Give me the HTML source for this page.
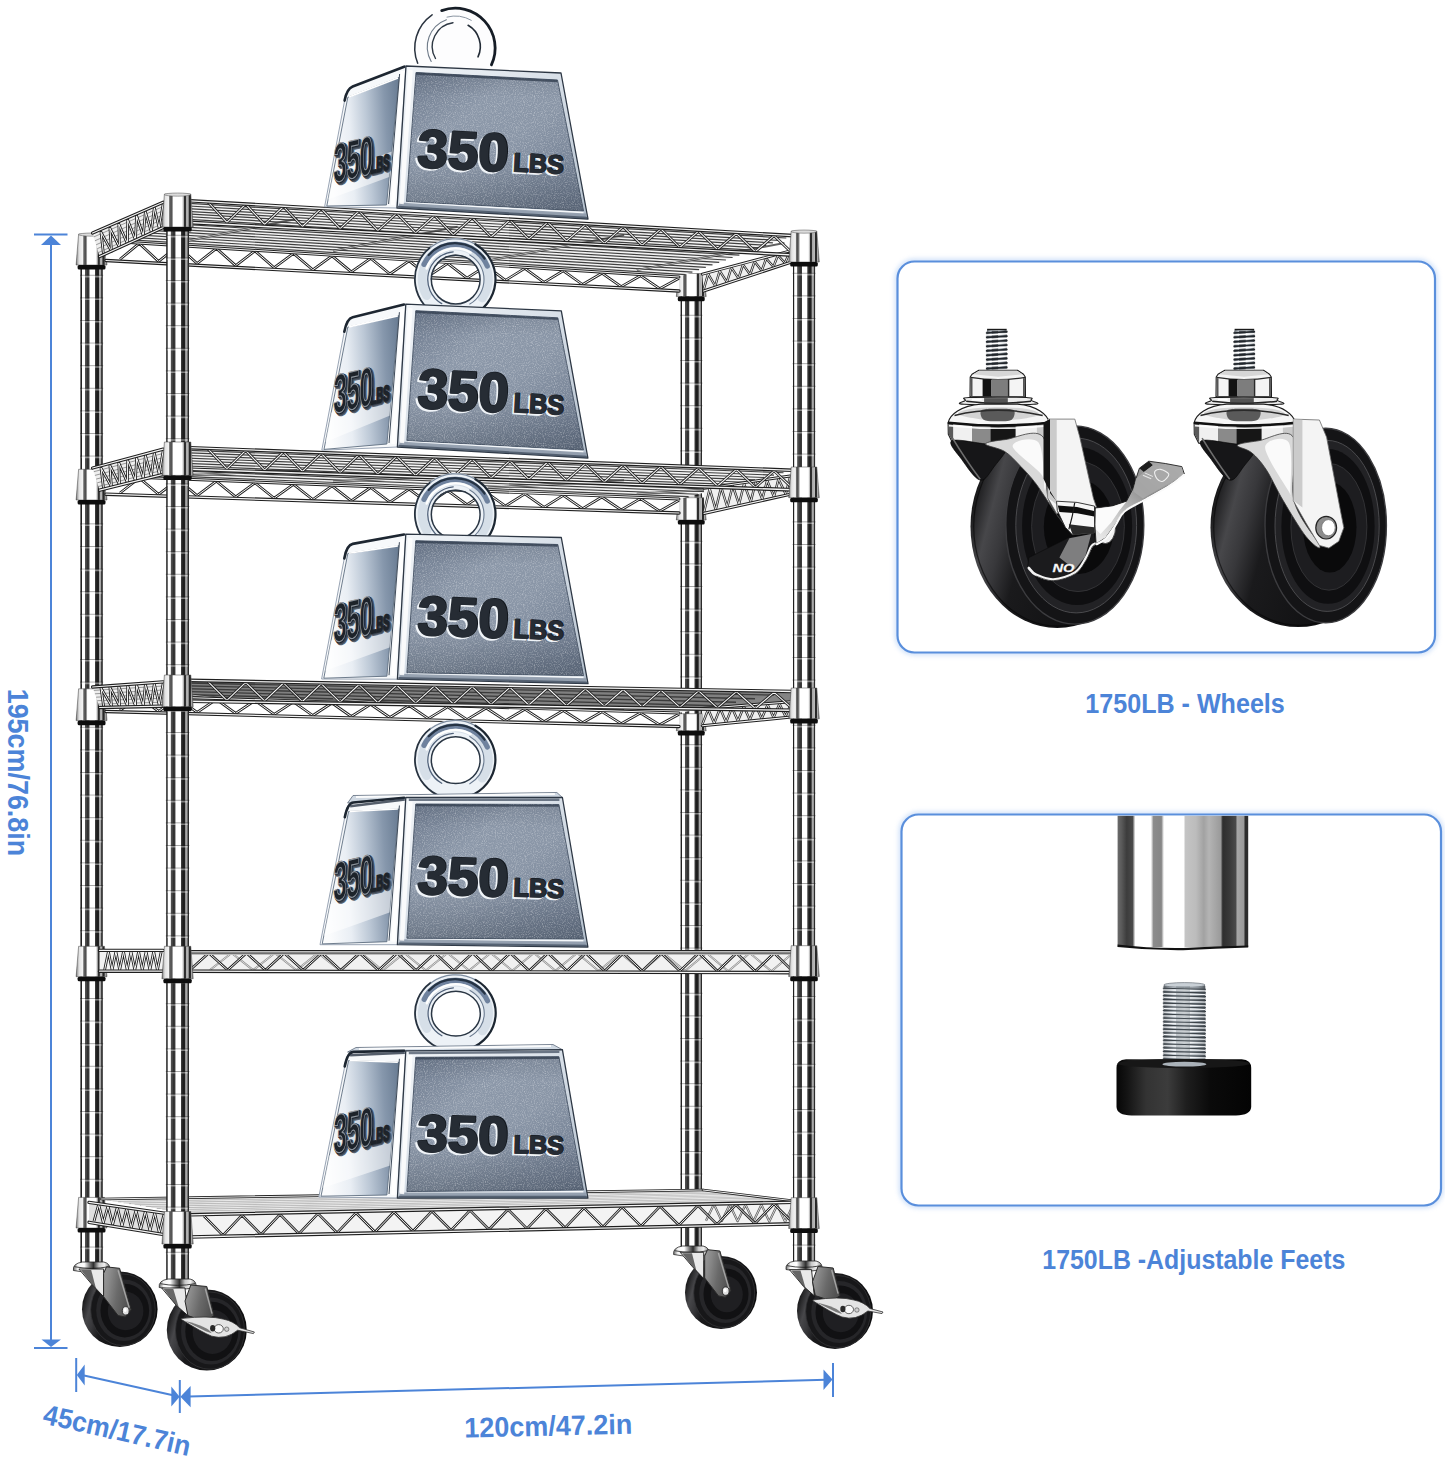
<!DOCTYPE html>
<html><head><meta charset="utf-8"><title>5-tier wire shelving - 350 LBS per shelf</title>
<style>
html,body{margin:0;padding:0;background:#fff;}
body{width:1445px;height:1458px;overflow:hidden;font-family:"Liberation Sans",sans-serif;}
svg{display:block;}
text{font-family:"Liberation Sans",sans-serif;}
</style></head><body>
<svg width="1445" height="1458" viewBox="0 0 1445 1458">

<defs>
  <linearGradient id="chrome" x1="0" x2="1" y1="0" y2="0">
    <stop offset="0" stop-color="#202020"/><stop offset="0.05" stop-color="#222222"/>
    <stop offset="0.072" stop-color="#ffffff"/><stop offset="0.185" stop-color="#ffffff"/>
    <stop offset="0.207" stop-color="#545454"/><stop offset="0.29" stop-color="#404040"/>
    <stop offset="0.31" stop-color="#303030"/><stop offset="0.385" stop-color="#3a3a3a"/>
    <stop offset="0.425" stop-color="#ffffff"/><stop offset="0.635" stop-color="#ffffff"/>
    <stop offset="0.665" stop-color="#3c3c3c"/><stop offset="0.71" stop-color="#2a2a2a"/>
    <stop offset="0.73" stop-color="#1c1c1c"/><stop offset="0.83" stop-color="#222222"/>
    <stop offset="0.85" stop-color="#a8a8a8"/><stop offset="0.925" stop-color="#a8a8a8"/>
    <stop offset="0.945" stop-color="#2b2b2b"/><stop offset="1" stop-color="#2b2b2b"/>
  </linearGradient>
  <linearGradient id="collar" x1="0" x2="1" y1="0" y2="0">
    <stop offset="0" stop-color="#4a4a4a"/><stop offset="0.04" stop-color="#a4a4a4"/>
    <stop offset="0.10" stop-color="#e2e2e2"/><stop offset="0.22" stop-color="#f4f4f4"/>
    <stop offset="0.245" stop-color="#707070"/><stop offset="0.30" stop-color="#484848"/>
    <stop offset="0.335" stop-color="#909090"/><stop offset="0.37" stop-color="#ffffff"/>
    <stop offset="0.64" stop-color="#ffffff"/><stop offset="0.69" stop-color="#b4b4b4"/>
    <stop offset="0.705" stop-color="#2e2e2e"/><stop offset="0.755" stop-color="#303030"/>
    <stop offset="0.77" stop-color="#a8a8a8"/><stop offset="0.845" stop-color="#b8b8b8"/>
    <stop offset="0.86" stop-color="#262626"/><stop offset="0.915" stop-color="#2a2a2a"/>
    <stop offset="0.93" stop-color="#b8b8b8"/><stop offset="1" stop-color="#6a6a6a"/>
  </linearGradient>
  <linearGradient id="panelg" x1="0" x2="1" y1="0" y2="1">
    <stop offset="0" stop-color="#6a778b"/><stop offset="0.32" stop-color="#8c98a9"/>
    <stop offset="0.55" stop-color="#8a96a7"/><stop offset="1" stop-color="#687589"/>
  </linearGradient>
  <linearGradient id="frameg" x1="0" x2="1" y1="0" y2="1">
    <stop offset="0" stop-color="#f4f7fa"/><stop offset="0.5" stop-color="#d5dde6"/>
    <stop offset="1" stop-color="#b4c0cd"/>
  </linearGradient>
  <linearGradient id="sideg" x1="0" x2="1" y1="0" y2="0">
    <stop offset="0" stop-color="#eef3f8"/><stop offset="0.45" stop-color="#ffffff"/>
    <stop offset="0.8" stop-color="#cfd9e4"/><stop offset="1" stop-color="#9fb0c4"/>
  </linearGradient>
  <linearGradient id="sideinner" x1="0" x2="1" y1="0.12" y2="0">
    <stop offset="0" stop-color="#fbfcfd"/><stop offset="0.28" stop-color="#e9eef4"/>
    <stop offset="0.52" stop-color="#bcc8d6"/><stop offset="0.78" stop-color="#8697ac"/>
    <stop offset="1" stop-color="#687b92"/>
  </linearGradient>
  <linearGradient id="ringg" x1="0" x2="1" y1="0" y2="1">
    <stop offset="0" stop-color="#5d6f86"/><stop offset="0.3" stop-color="#a9b8c9"/>
    <stop offset="0.55" stop-color="#e6edf4"/><stop offset="1" stop-color="#c4d0dc"/>
  </linearGradient>
  <linearGradient id="tube" x1="0" x2="1" y1="0" y2="0">
    <stop offset="0" stop-color="#6a6a6a"/><stop offset="0.03" stop-color="#5a5a5a"/>
    <stop offset="0.07" stop-color="#3c3c3c"/><stop offset="0.115" stop-color="#4a4a4a"/>
    <stop offset="0.135" stop-color="#ffffff"/><stop offset="0.255" stop-color="#ffffff"/>
    <stop offset="0.275" stop-color="#8c8c8c"/><stop offset="0.335" stop-color="#868686"/>
    <stop offset="0.355" stop-color="#ffffff"/><stop offset="0.505" stop-color="#ffffff"/>
    <stop offset="0.52" stop-color="#c4c4c4"/><stop offset="0.60" stop-color="#bcbcbc"/>
    <stop offset="0.66" stop-color="#a2a2a2"/><stop offset="0.70" stop-color="#b4b4b4"/>
    <stop offset="0.79" stop-color="#9a9a9a"/><stop offset="0.805" stop-color="#2e2e2e"/>
    <stop offset="0.86" stop-color="#3a3a3a"/><stop offset="0.905" stop-color="#4a4a4a"/>
    <stop offset="0.915" stop-color="#a6a6a6"/><stop offset="0.965" stop-color="#9a9a9a"/>
    <stop offset="0.978" stop-color="#2c2c2c"/><stop offset="1" stop-color="#2c2c2c"/>
  </linearGradient>
  <linearGradient id="screw" x1="0" x2="1" y1="0" y2="0">
    <stop offset="0" stop-color="#5a6066"/><stop offset="0.25" stop-color="#c8cfd6"/>
    <stop offset="0.5" stop-color="#eef2f5"/><stop offset="0.8" stop-color="#9aa2aa"/>
    <stop offset="1" stop-color="#50565c"/>
  </linearGradient>
  <linearGradient id="footg" x1="0" x2="1" y1="0" y2="0">
    <stop offset="0" stop-color="#060606"/><stop offset="0.08" stop-color="#141414"/>
    <stop offset="0.22" stop-color="#333333"/><stop offset="0.38" stop-color="#3c3c3c"/>
    <stop offset="0.52" stop-color="#1e1e1e"/><stop offset="0.7" stop-color="#0a0a0a"/>
    <stop offset="1" stop-color="#040404"/>
  </linearGradient>
  <radialGradient id="tire" cx="0.45" cy="0.45" r="0.6">
    <stop offset="0" stop-color="#2a2a2c"/><stop offset="0.55" stop-color="#1b1b1d"/>
    <stop offset="0.8" stop-color="#111113"/><stop offset="1" stop-color="#060607"/>
  </radialGradient>
  <linearGradient id="forkg" x1="0" x2="1" y1="0" y2="0">
    <stop offset="0" stop-color="#e8e8e8"/><stop offset="0.4" stop-color="#bdbdbd"/>
    <stop offset="1" stop-color="#8d8d8d"/>
  </linearGradient>
  <linearGradient id="domeg" x1="0" x2="1" y1="0" y2="0">
    <stop offset="0" stop-color="#6a6a6a"/><stop offset="0.12" stop-color="#f4f4f4"/>
    <stop offset="0.3" stop-color="#ffffff"/><stop offset="0.45" stop-color="#777"/>
    <stop offset="0.55" stop-color="#2e2e2e"/><stop offset="0.7" stop-color="#c9c9c9"/>
    <stop offset="0.85" stop-color="#f0f0f0"/><stop offset="1" stop-color="#777"/>
  </linearGradient>
  <linearGradient id="forkdk" x1="0" x2="1" y1="0" y2="0.3">
    <stop offset="0" stop-color="#9a9a9a"/><stop offset="0.25" stop-color="#8a8a8a"/>
    <stop offset="0.6" stop-color="#6a6a6a"/><stop offset="1" stop-color="#525252"/>
  </linearGradient>
  <linearGradient id="panelshade" x1="0" x2="0" y1="0" y2="1">
    <stop offset="0" stop-color="#3c4656" stop-opacity="0.22"/><stop offset="0.18" stop-color="#3c4656" stop-opacity="0"/>
    <stop offset="0.62" stop-color="#3c4656" stop-opacity="0"/><stop offset="1" stop-color="#38424f" stop-opacity="0.38"/>
  </linearGradient>
  <linearGradient id="leverg" x1="0" x2="1" y1="1" y2="0">
    <stop offset="0" stop-color="#efefef"/><stop offset="0.3" stop-color="#c9c9c9"/>
    <stop offset="0.6" stop-color="#8e8e8e"/><stop offset="1" stop-color="#b5b5b5"/>
  </linearGradient>
  <linearGradient id="tread" x1="0" x2="1" y1="0.35" y2="0.65">
    <stop offset="0" stop-color="#0c0c0c"/><stop offset="0.05" stop-color="#252527"/>
    <stop offset="0.13" stop-color="#47474a"/><stop offset="0.22" stop-color="#38383b"/>
    <stop offset="0.34" stop-color="#1a1a1c"/><stop offset="1" stop-color="#0b0b0c"/>
  </linearGradient>
  <filter id="grain" x="0" y="0" width="100%" height="100%">
    <feTurbulence type="fractalNoise" baseFrequency="0.9" numOctaves="2" seed="3" result="n"/>
    <feColorMatrix in="n" type="matrix" values="0 0 0 0 1  0 0 0 0 1  0 0 0 0 1  1.6 0 0 0 -0.72" result="s"/>
    <feComposite in="s" in2="SourceGraphic" operator="in"/>
  </filter>
  <filter id="soft"><feGaussianBlur stdDeviation="1.2"/></filter>
  <filter id="glow"><feGaussianBlur stdDeviation="2.5"/></filter>
</defs>

<rect width="1445" height="1458" fill="#ffffff"/>
<g id="rack-back">
<rect x="680.6" y="280" width="21.4" height="967" fill="url(#chrome)"/>
<path d="M680.2,292.7h22.2M680.2,315.3h22.2M680.2,337.9h22.2M680.2,360.5h22.2M680.2,383.1h22.2M680.2,405.7h22.2M680.2,428.3h22.2M680.2,450.9h22.2M680.2,473.5h22.2M680.2,496.1h22.2M680.2,518.7h22.2M680.2,541.3h22.2M680.2,563.9h22.2M680.2,586.5h22.2M680.2,609.1h22.2M680.2,631.7h22.2M680.2,654.3h22.2M680.2,676.9h22.2M680.2,699.5h22.2M680.2,722.1h22.2M680.2,744.7h22.2M680.2,767.3h22.2M680.2,789.9h22.2M680.2,812.5h22.2M680.2,835.1h22.2M680.2,857.7h22.2M680.2,880.3h22.2M680.2,902.9h22.2M680.2,925.5h22.2M680.2,948.1h22.2M680.2,970.7h22.2M680.2,993.3h22.2M680.2,1015.9h22.2M680.2,1038.5h22.2M680.2,1061.1h22.2M680.2,1083.7h22.2M680.2,1106.3h22.2M680.2,1128.9h22.2M680.2,1151.5h22.2M680.2,1174.1h22.2M680.2,1196.7h22.2M680.2,1219.3h22.2" stroke="#1a1a1a" stroke-width="0.7" opacity="0.55"/>
<path d="M681.8,294.0h19.0M681.8,316.6h19.0M681.8,339.2h19.0M681.8,361.8h19.0M681.8,384.4h19.0M681.8,407.0h19.0M681.8,429.6h19.0M681.8,452.2h19.0M681.8,474.8h19.0M681.8,497.4h19.0M681.8,520.0h19.0M681.8,542.6h19.0M681.8,565.2h19.0M681.8,587.8h19.0M681.8,610.4h19.0M681.8,633.0h19.0M681.8,655.6h19.0M681.8,678.2h19.0M681.8,700.8h19.0M681.8,723.4h19.0M681.8,746.0h19.0M681.8,768.6h19.0M681.8,791.2h19.0M681.8,813.8h19.0M681.8,836.4h19.0M681.8,859.0h19.0M681.8,881.6h19.0M681.8,904.2h19.0M681.8,926.8h19.0M681.8,949.4h19.0M681.8,972.0h19.0M681.8,994.6h19.0M681.8,1017.2h19.0M681.8,1039.8h19.0M681.8,1062.4h19.0M681.8,1085.0h19.0M681.8,1107.6h19.0M681.8,1130.2h19.0M681.8,1152.8h19.0M681.8,1175.4h19.0M681.8,1198.0h19.0M681.8,1220.6h19.0" stroke="#ffffff" stroke-width="1.6" opacity="0.42"/>
<polygon points="678.8,273.5 703.8,273.5 706.2,296.6 676.3,296.6" fill="url(#collar)" stroke="#444" stroke-width="0.5"/>
<rect x="677.8" y="296.6" width="26.9" height="4.6" rx="1.5" fill="#0d0d0d"/>
<polygon points="678.8,497.7 703.8,497.7 706.2,520.0 676.3,520.0" fill="url(#collar)" stroke="#444" stroke-width="0.5"/>
<rect x="677.8" y="520.0" width="26.9" height="4.6" rx="1.5" fill="#0d0d0d"/>
<polygon points="678.8,713.7 703.8,713.7 706.2,730.8 676.3,730.8" fill="url(#collar)" stroke="#444" stroke-width="0.5"/>
<rect x="677.8" y="730.8" width="26.9" height="4.6" rx="1.5" fill="#0d0d0d"/>
<rect x="80.4" y="240" width="22.4" height="1023" fill="url(#chrome)"/>
<path d="M80.0,252.7h23.2M80.0,275.3h23.2M80.0,297.9h23.2M80.0,320.5h23.2M80.0,343.1h23.2M80.0,365.7h23.2M80.0,388.3h23.2M80.0,410.9h23.2M80.0,433.5h23.2M80.0,456.1h23.2M80.0,478.7h23.2M80.0,501.3h23.2M80.0,523.9h23.2M80.0,546.5h23.2M80.0,569.1h23.2M80.0,591.7h23.2M80.0,614.3h23.2M80.0,636.9h23.2M80.0,659.5h23.2M80.0,682.1h23.2M80.0,704.7h23.2M80.0,727.3h23.2M80.0,749.9h23.2M80.0,772.5h23.2M80.0,795.1h23.2M80.0,817.7h23.2M80.0,840.3h23.2M80.0,862.9h23.2M80.0,885.5h23.2M80.0,908.1h23.2M80.0,930.7h23.2M80.0,953.3h23.2M80.0,975.9h23.2M80.0,998.5h23.2M80.0,1021.1h23.2M80.0,1043.7h23.2M80.0,1066.3h23.2M80.0,1088.9h23.2M80.0,1111.5h23.2M80.0,1134.1h23.2M80.0,1156.7h23.2M80.0,1179.3h23.2M80.0,1201.9h23.2M80.0,1224.5h23.2M80.0,1247.1h23.2" stroke="#1a1a1a" stroke-width="0.7" opacity="0.55"/>
<path d="M81.6,254.0h20.0M81.6,276.6h20.0M81.6,299.2h20.0M81.6,321.8h20.0M81.6,344.4h20.0M81.6,367.0h20.0M81.6,389.6h20.0M81.6,412.2h20.0M81.6,434.8h20.0M81.6,457.4h20.0M81.6,480.0h20.0M81.6,502.6h20.0M81.6,525.2h20.0M81.6,547.8h20.0M81.6,570.4h20.0M81.6,593.0h20.0M81.6,615.6h20.0M81.6,638.2h20.0M81.6,660.8h20.0M81.6,683.4h20.0M81.6,706.0h20.0M81.6,728.6h20.0M81.6,751.2h20.0M81.6,773.8h20.0M81.6,796.4h20.0M81.6,819.0h20.0M81.6,841.6h20.0M81.6,864.2h20.0M81.6,886.8h20.0M81.6,909.4h20.0M81.6,932.0h20.0M81.6,954.6h20.0M81.6,977.2h20.0M81.6,999.8h20.0M81.6,1022.4h20.0M81.6,1045.0h20.0M81.6,1067.6h20.0M81.6,1090.2h20.0M81.6,1112.8h20.0M81.6,1135.4h20.0M81.6,1158.0h20.0M81.6,1180.6h20.0M81.6,1203.2h20.0M81.6,1225.8h20.0M81.6,1248.4h20.0" stroke="#ffffff" stroke-width="1.6" opacity="0.42"/>
<polygon points="78.6,234.0 104.5,234.0 107.0,265.0 76.1,265.0" fill="url(#collar)" stroke="#444" stroke-width="0.5"/>
<rect x="77.6" y="265.0" width="27.9" height="4.6" rx="1.5" fill="#0d0d0d"/>
<ellipse cx="91.6" cy="234.6" rx="12.9" ry="1.6" fill="#dcdcdc" stroke="#555" stroke-width="0.5"/>
<polygon points="78.6,469.3 104.5,469.3 107.0,500.0 76.1,500.0" fill="url(#collar)" stroke="#444" stroke-width="0.5"/>
<rect x="77.6" y="500.0" width="27.9" height="4.6" rx="1.5" fill="#0d0d0d"/>
<polygon points="78.6,688.8 104.5,688.8 107.0,720.6 76.1,720.6" fill="url(#collar)" stroke="#444" stroke-width="0.5"/>
<rect x="77.6" y="720.6" width="27.9" height="4.6" rx="1.5" fill="#0d0d0d"/>
<polygon points="78.6,946.3 104.5,946.3 107.0,976.7 76.1,976.7" fill="url(#collar)" stroke="#444" stroke-width="0.5"/>
<rect x="77.6" y="976.7" width="27.9" height="4.6" rx="1.5" fill="#0d0d0d"/>
<polygon points="78.6,1197.4 104.5,1197.4 107.0,1228.0 76.1,1228.0" fill="url(#collar)" stroke="#444" stroke-width="0.5"/>
<rect x="77.6" y="1228.0" width="27.9" height="4.6" rx="1.5" fill="#0d0d0d"/>
</g>
<g id="shelves-weights">
<g id="shelf1">
<polygon points="190.0,200.8 793.0,235.6 679.0,277.0 106.0,241.0" fill="#f3f3f3"/>
<path d="M185.1,203.2L786.3,238.0M180.1,205.5L779.6,240.5M175.2,207.9L772.9,242.9M170.2,210.3L766.2,245.3M165.3,212.6L759.5,247.8M160.4,215.0L752.8,250.2M155.4,217.4L746.1,252.6M150.5,219.7L739.4,255.1M145.5,222.1L732.6,257.5M140.6,224.4L725.9,260.0M135.6,226.8L719.2,262.4M130.7,229.2L712.5,264.8M125.8,231.5L705.8,267.3M120.8,233.9L699.1,269.7M115.9,236.3L692.4,272.1M110.9,238.6L685.7,274.6" stroke="#2c2c2c" stroke-width="1.2" opacity="0.9" fill="none"/>
<line x1="262.2" y1="225.8" x2="184.1" y2="241.5" stroke="#2e2e2e" stroke-width="2.2" opacity="0.9"/>
<line x1="262.2" y1="225.8" x2="184.1" y2="241.5" stroke="#e8e8e8" stroke-width="0.8" opacity="0.9"/>
<line x1="262.2" y1="225.8" x2="297.4" y2="218.7" stroke="#3a3a3a" stroke-width="2.0" opacity="0.8"/>
<line x1="419.0" y1="234.2" x2="333.1" y2="250.9" stroke="#2e2e2e" stroke-width="2.2" opacity="0.9"/>
<line x1="419.0" y1="234.2" x2="333.1" y2="250.9" stroke="#e8e8e8" stroke-width="0.8" opacity="0.9"/>
<line x1="419.0" y1="234.2" x2="457.6" y2="226.7" stroke="#3a3a3a" stroke-width="2.0" opacity="0.8"/>
<line x1="581.8" y1="243.0" x2="487.8" y2="260.6" stroke="#2e2e2e" stroke-width="2.2" opacity="0.9"/>
<line x1="581.8" y1="243.0" x2="487.8" y2="260.6" stroke="#e8e8e8" stroke-width="0.8" opacity="0.9"/>
<line x1="581.8" y1="243.0" x2="624.1" y2="235.1" stroke="#3a3a3a" stroke-width="2.0" opacity="0.8"/>
<line x1="738.6" y1="251.4" x2="636.8" y2="270.0" stroke="#2e2e2e" stroke-width="2.2" opacity="0.9"/>
<line x1="738.6" y1="251.4" x2="636.8" y2="270.0" stroke="#e8e8e8" stroke-width="0.8" opacity="0.9"/>
<line x1="738.6" y1="251.4" x2="784.4" y2="243.1" stroke="#3a3a3a" stroke-width="2.0" opacity="0.8"/>
<polygon points="106.0,241.0 679.0,277.0 679.0,291.0 106.0,260.5" fill="#ffffff"/>
<polyline points="120.0,259.3 139.3,243.4 158.6,261.4 177.8,245.9 197.1,263.5 216.4,248.4 235.7,265.6 254.9,250.9 274.2,267.7 293.5,253.4 312.8,269.8 332.0,255.9 351.3,271.9 370.6,258.3 389.9,274.0 409.1,260.8 428.4,276.1 447.7,263.3 467.0,278.2 486.2,265.8 505.5,280.3 524.8,268.3 544.1,282.4 563.3,270.8 582.6,284.5 601.9,273.2 621.2,286.6 640.4,275.7 659.7,288.7 679.0,278.2" fill="none" stroke="#262626" stroke-width="2.75" stroke-linejoin="round"/><polyline points="120.0,259.3 139.3,243.4 158.6,261.4 177.8,245.9 197.1,263.5 216.4,248.4 235.7,265.6 254.9,250.9 274.2,267.7 293.5,253.4 312.8,269.8 332.0,255.9 351.3,271.9 370.6,258.3 389.9,274.0 409.1,260.8 428.4,276.1 447.7,263.3 467.0,278.2 486.2,265.8 505.5,280.3 524.8,268.3 544.1,282.4 563.3,270.8 582.6,284.5 601.9,273.2 621.2,286.6 640.4,275.7 659.7,288.7 679.0,278.2" fill="none" stroke="#fafafa" stroke-width="1.0" stroke-linejoin="round"/>
<line x1="106.0" y1="241.0" x2="679.0" y2="277.0" stroke="#1f1f1f" stroke-width="2.9120000000000004" stroke-linecap="round"/><line x1="106.0" y1="241.0" x2="679.0" y2="277.0" stroke="#f4f4f4" stroke-width="1.0483200000000001" stroke-linecap="round"/>
<line x1="106.0" y1="260.5" x2="679.0" y2="291.0" stroke="#1f1f1f" stroke-width="3.3600000000000003" stroke-linecap="round"/><line x1="106.0" y1="260.5" x2="679.0" y2="291.0" stroke="#f4f4f4" stroke-width="1.2096" stroke-linecap="round"/>
<polygon points="702.3,274.2 789.5,251.1 790.8,262.3 703.6,291.0" fill="#f0f0f0"/>
<polyline points="703.6,289.8 708.1,273.9 715.2,286.0 719.7,270.8 726.9,282.1 731.4,267.7 738.5,278.3 743.0,264.6 750.1,274.5 754.6,261.5 761.7,270.7 766.2,258.5 773.4,266.8 777.9,255.4 785.0,263.0 789.5,252.3" fill="none" stroke="#262626" stroke-width="2.4200000000000004" stroke-linejoin="round"/><polyline points="703.6,289.8 708.1,273.9 715.2,286.0 719.7,270.8 726.9,282.1 731.4,267.7 738.5,278.3 743.0,264.6 750.1,274.5 754.6,261.5 761.7,270.7 766.2,258.5 773.4,266.8 777.9,255.4 785.0,263.0 789.5,252.3" fill="none" stroke="#fafafa" stroke-width="0.8800000000000001" stroke-linejoin="round"/>
<line x1="702.3" y1="274.2" x2="789.5" y2="251.1" stroke="#1f1f1f" stroke-width="2.9120000000000004" stroke-linecap="round"/><line x1="702.3" y1="274.2" x2="789.5" y2="251.1" stroke="#f4f4f4" stroke-width="1.0483200000000001" stroke-linecap="round"/>
<line x1="703.6" y1="291.0" x2="790.8" y2="262.3" stroke="#1f1f1f" stroke-width="3.136" stroke-linecap="round"/><line x1="703.6" y1="291.0" x2="790.8" y2="262.3" stroke="#f4f4f4" stroke-width="1.12896" stroke-linecap="round"/>
<polygon points="92.6,233.0 163.2,202.3 163.2,227.5 99.6,256.5" fill="#eeeeee"/>
<path d="M93.8,236.9L163.2,206.5M94.9,240.8L163.2,210.7M96.1,244.8L163.2,214.9M97.3,248.7L163.2,219.1M98.4,252.6L163.2,223.3" stroke="#555" stroke-width="0.8" opacity="0.7" fill="none"/>
<polyline points="103.6,255.3 101.0,232.2 111.5,251.4 109.9,228.1 119.5,247.6 118.8,224.0 127.4,243.7 127.7,219.9 135.4,239.8 136.6,215.8 143.3,236.0 145.4,211.7 151.3,232.1 154.3,207.6 159.2,228.2 163.2,203.5" fill="none" stroke="#222" stroke-width="2.75" stroke-linejoin="round"/><polyline points="103.6,255.3 101.0,232.2 111.5,251.4 109.9,228.1 119.5,247.6 118.8,224.0 127.4,243.7 127.7,219.9 135.4,239.8 136.6,215.8 143.3,236.0 145.4,211.7 151.3,232.1 154.3,207.6 159.2,228.2 163.2,203.5" fill="none" stroke="#fafafa" stroke-width="1.0" stroke-linejoin="round"/>
<line x1="92.6" y1="233.0" x2="163.2" y2="202.3" stroke="#1f1f1f" stroke-width="3.3600000000000003" stroke-linecap="round"/><line x1="92.6" y1="233.0" x2="163.2" y2="202.3" stroke="#f4f4f4" stroke-width="1.2096" stroke-linecap="round"/>
<line x1="99.6" y1="256.5" x2="163.2" y2="227.5" stroke="#1f1f1f" stroke-width="3.3600000000000003" stroke-linecap="round"/><line x1="99.6" y1="256.5" x2="163.2" y2="227.5" stroke="#f4f4f4" stroke-width="1.2096" stroke-linecap="round"/>
<polyline points="208.0,202.0 226.9,222.3 245.7,204.2 264.6,224.4 283.5,206.5 302.4,226.5 321.2,208.7 340.1,228.6 359.0,211.0 377.8,230.7 396.7,213.2 415.6,232.8 434.5,215.5 453.3,234.9 472.2,217.7 491.1,237.0 509.9,220.0 528.8,239.1 547.7,222.2 566.5,241.2 585.4,224.5 604.3,243.3 623.2,226.7 642.0,245.4 660.9,228.9 679.8,247.5 698.6,231.2 717.5,249.6 736.4,233.4 755.3,251.7 774.1,235.7 793.0,253.8" fill="none" stroke="#262626" stroke-width="2.8600000000000003" stroke-linejoin="round"/><polyline points="208.0,202.0 226.9,222.3 245.7,204.2 264.6,224.4 283.5,206.5 302.4,226.5 321.2,208.7 340.1,228.6 359.0,211.0 377.8,230.7 396.7,213.2 415.6,232.8 434.5,215.5 453.3,234.9 472.2,217.7 491.1,237.0 509.9,220.0 528.8,239.1 547.7,222.2 566.5,241.2 585.4,224.5 604.3,243.3 623.2,226.7 642.0,245.4 660.9,228.9 679.8,247.5 698.6,231.2 717.5,249.6 736.4,233.4 755.3,251.7 774.1,235.7 793.0,253.8" fill="none" stroke="#fafafa" stroke-width="1.04" stroke-linejoin="round"/>
<line x1="190.0" y1="200.8" x2="793.0" y2="235.6" stroke="#1f1f1f" stroke-width="3.5840000000000005" stroke-linecap="round"/><line x1="190.0" y1="200.8" x2="793.0" y2="235.6" stroke="#f4f4f4" stroke-width="1.29024" stroke-linecap="round"/>
<line x1="190.0" y1="222.5" x2="793.0" y2="255.0" stroke="#1f1f1f" stroke-width="3.8080000000000003" stroke-linecap="round"/><line x1="190.0" y1="222.5" x2="793.0" y2="255.0" stroke="#f4f4f4" stroke-width="1.37088" stroke-linecap="round"/>
</g>
<g id="weight1">
<ellipse cx="455.3" cy="48" rx="41" ry="41" fill="#fdfdfe"/>
<path d="M417.7,63.2 A40.5,40.5 0 0 1 432.1,14.8" fill="none" stroke="#2a333f" stroke-width="1.5" stroke-linecap="round" opacity="1"/>
<path d="M441.7,10.6 A39.8,39.8 0 0 1 491.4,64.8" fill="none" stroke="#161d26" stroke-width="2.8" stroke-linecap="round" opacity="1"/>
<path d="M431.2,61.5 A29,29 0 0 1 446.4,19.7" fill="none" stroke="#6f7b89" stroke-width="1.1" stroke-linecap="round" opacity="1"/>
<path d="M435.5,58.5 A24,24 0 0 1 453.0,22.7" fill="none" stroke="#2d3743" stroke-width="1.4" stroke-linecap="round" opacity="1"/>
<path d="M468.1,25.3 A24.5,24.5 0 0 1 478.0,56.9" fill="none" stroke="#222b36" stroke-width="1.6" stroke-linecap="round" opacity="1"/>
<path d="M447.0,17.1 A32,32 0 0 1 471.3,20.3" fill="none" stroke="#8a95a2" stroke-width="1.0" stroke-linecap="round" opacity="1"/>
<path d="M345.5,95.9 Q346.8,88.8 352.7,86.5 L406.0,66.0 L397.0,208.0 L324.6,206.8 Z" fill="#f7f9fb" stroke="#8d9aab" stroke-width="0.9"/>
<polygon points="347.8,97.3 399.0,77.5 386.5,205.0 326.8,206.0" fill="url(#sideinner)" stroke="#5f6e80" stroke-width="0.9"/>
<polygon points="333.1,173.4 391.8,151.4 389.2,176.9 328.1,199.5" fill="#ffffff" opacity="0.55"/>
<path d="M344.6,100.6 Q346.8,88.8 352.7,86.5 L404.2,66.7" fill="none" stroke="#1d2631" stroke-width="2.6" stroke-linecap="round"/>
<line x1="348.8" y1="96.9" x2="398.0" y2="77.9" stroke="#ffffff" stroke-width="1.6"/>
<line x1="402.8" y1="71.0" x2="392.8" y2="205.0" stroke="#ffffff" stroke-width="4"/>
<line x1="399.6" y1="74.0" x2="388.6" y2="204.0" stroke="#3f4b5a" stroke-width="1.0"/>
<g transform="translate(335.3,184.4) rotate(-13) skewX(-14) scale(0.47,1)"><text x="0" y="0" font-size="53" font-weight="bold" fill="#59626d" stroke="#59626d" stroke-width="3.2" stroke-linejoin="round" letter-spacing="-1">350</text><text x="80" y="-1" font-size="21" font-weight="bold" fill="#59626d" stroke="#59626d" stroke-width="2.5600000000000005" letter-spacing="0">LBS</text></g>
<g transform="translate(334.4,183.7) rotate(-13) skewX(-14) scale(0.47,1)"><text x="0" y="0" font-size="53" font-weight="bold" fill="#3d454f" stroke="#3d454f" stroke-width="2.8" stroke-linejoin="round" letter-spacing="-1">350</text><text x="80" y="-1" font-size="21" font-weight="bold" fill="#3d454f" stroke="#3d454f" stroke-width="2.2399999999999998" letter-spacing="0">LBS</text></g>
<g transform="translate(333.5,183.0) rotate(-13) skewX(-14) scale(0.47,1)"><text x="0" y="0" font-size="53" font-weight="bold" fill="#1d232a" stroke="#1d232a" stroke-width="2.0" stroke-linejoin="round" letter-spacing="-1">350</text><text x="80" y="-1" font-size="21" font-weight="bold" fill="#1d232a" stroke="#1d232a" stroke-width="1.6" letter-spacing="0">LBS</text></g>
<g transform="translate(332.9,182.6) rotate(-13) skewX(-14) scale(0.47,1)"><text x="0" y="0" font-size="53" font-weight="bold" fill="none" stroke="#c9d2dc" stroke-width="1.2" opacity="0.65" letter-spacing="-1">350</text></g>
<polygon points="406.0,66.0 561.0,73.0 588.0,219.0 397.0,208.0" fill="url(#frameg)" stroke="#2d3744" stroke-width="1.3" stroke-linejoin="round"/>
<polygon points="416.0,72.5 557.5,80.0 583.5,211.0 406.5,201.5" fill="url(#panelg)" stroke="#4c596b" stroke-width="1"/>
<polygon points="416.0,72.5 557.5,80.0 583.5,211.0 406.5,201.5" fill="url(#panelshade)"/>
<polygon points="416.0,72.5 557.5,80.0 583.5,211.0 406.5,201.5" fill="#ffffff" filter="url(#grain)" opacity="0.5"/>
<line x1="416.0" y1="73.7" x2="557.5" y2="81.2" stroke="#354152" stroke-width="2.2" opacity="0.8"/>
<line x1="407.5" y1="203.5" x2="583.5" y2="213.0" stroke="#f5f8fb" stroke-width="2.4"/>
<line x1="399.0" y1="204.4" x2="586.0" y2="215.4" stroke="#8f9bab" stroke-width="3.6" opacity="0.9"/>
<line x1="398.0" y1="206.8" x2="587.0" y2="217.8" stroke="#4a5768" stroke-width="2.0" opacity="0.9"/>
<line x1="410.5" y1="70.0" x2="401.5" y2="204.0" stroke="#ffffff" stroke-width="4.5" opacity="0.85"/>
<g transform="translate(414.3,168.6) rotate(3.0)"><text x="0" y="0" font-size="53.6" font-weight="bold" fill="#f0f4f8" textLength="91.5" lengthAdjust="spacingAndGlyphs" stroke="#f0f4f8" stroke-width="1.6" stroke-linejoin="round">350</text><text x="96.5" y="-0.6" font-size="26.3" font-weight="bold" fill="#f0f4f8" textLength="50.5" lengthAdjust="spacingAndGlyphs" stroke="#f0f4f8" stroke-width="0.9">LBS</text></g>
<g transform="translate(417.0,166.5) rotate(3.0)"><text x="0" y="0" font-size="53.6" font-weight="bold" fill="#11161c" textLength="91.5" lengthAdjust="spacingAndGlyphs" stroke="#11161c" stroke-width="1.6" stroke-linejoin="round">350</text><text x="96.5" y="-0.6" font-size="26.3" font-weight="bold" fill="#11161c" textLength="50.5" lengthAdjust="spacingAndGlyphs" stroke="#11161c" stroke-width="0.9">LBS</text></g>
<g transform="translate(416.2,167.0) rotate(3.0)"><text x="0" y="0" font-size="53.6" font-weight="bold" fill="#262c34" textLength="91.5" lengthAdjust="spacingAndGlyphs" stroke="#262c34" stroke-width="1.6" stroke-linejoin="round">350</text><text x="96.5" y="-0.6" font-size="26.3" font-weight="bold" fill="#262c34" textLength="50.5" lengthAdjust="spacingAndGlyphs" stroke="#262c34" stroke-width="0.9">LBS</text></g>
</g>
<g id="shelf2">
<polygon points="190.0,447.7 793.0,470.3 679.0,499.0 106.0,476.0" fill="#f3f3f3"/>
<path d="M183.0,450.1L783.5,472.7M176.0,452.4L774.0,475.1M169.0,454.8L764.5,477.5M162.0,457.1L755.0,479.9M155.0,459.5L745.5,482.3M148.0,461.9L736.0,484.6M141.0,464.2L726.5,487.0M134.0,466.6L717.0,489.4M127.0,468.9L707.5,491.8M120.0,471.3L698.0,494.2M113.0,473.6L688.5,496.6" stroke="#2c2c2c" stroke-width="1.15" opacity="0.9" fill="none"/>
<line x1="262.2" y1="471.7" x2="184.1" y2="475.6" stroke="#2e2e2e" stroke-width="2.2" opacity="0.9"/>
<line x1="262.2" y1="471.7" x2="184.1" y2="475.6" stroke="#e8e8e8" stroke-width="0.8" opacity="0.9"/>
<line x1="262.2" y1="471.7" x2="297.4" y2="470.0" stroke="#3a3a3a" stroke-width="2.0" opacity="0.8"/>
<line x1="419.0" y1="477.1" x2="333.1" y2="481.6" stroke="#2e2e2e" stroke-width="2.2" opacity="0.9"/>
<line x1="419.0" y1="477.1" x2="333.1" y2="481.6" stroke="#e8e8e8" stroke-width="0.8" opacity="0.9"/>
<line x1="419.0" y1="477.1" x2="457.6" y2="475.0" stroke="#3a3a3a" stroke-width="2.0" opacity="0.8"/>
<line x1="581.8" y1="482.6" x2="487.8" y2="487.8" stroke="#2e2e2e" stroke-width="2.2" opacity="0.9"/>
<line x1="581.8" y1="482.6" x2="487.8" y2="487.8" stroke="#e8e8e8" stroke-width="0.8" opacity="0.9"/>
<line x1="581.8" y1="482.6" x2="624.1" y2="480.3" stroke="#3a3a3a" stroke-width="2.0" opacity="0.8"/>
<line x1="738.6" y1="487.9" x2="636.8" y2="493.8" stroke="#2e2e2e" stroke-width="2.2" opacity="0.9"/>
<line x1="738.6" y1="487.9" x2="636.8" y2="493.8" stroke="#e8e8e8" stroke-width="0.8" opacity="0.9"/>
<line x1="738.6" y1="487.9" x2="784.4" y2="485.3" stroke="#3a3a3a" stroke-width="2.0" opacity="0.8"/>
<polygon points="106.0,476.0 679.0,499.0 679.0,513.0 106.0,494.2" fill="#ffffff"/>
<polyline points="120.0,493.0 139.3,478.0 158.6,494.3 177.8,479.6 197.1,495.6 216.4,481.2 235.7,496.9 254.9,482.8 274.2,498.2 293.5,484.3 312.8,499.5 332.0,485.9 351.3,500.8 370.6,487.5 389.9,502.1 409.1,489.1 428.4,503.4 447.7,490.7 467.0,504.7 486.2,492.3 505.5,506.0 524.8,493.9 544.1,507.3 563.3,495.4 582.6,508.6 601.9,497.0 621.2,509.9 640.4,498.6 659.7,511.2 679.0,500.2" fill="none" stroke="#262626" stroke-width="2.75" stroke-linejoin="round"/><polyline points="120.0,493.0 139.3,478.0 158.6,494.3 177.8,479.6 197.1,495.6 216.4,481.2 235.7,496.9 254.9,482.8 274.2,498.2 293.5,484.3 312.8,499.5 332.0,485.9 351.3,500.8 370.6,487.5 389.9,502.1 409.1,489.1 428.4,503.4 447.7,490.7 467.0,504.7 486.2,492.3 505.5,506.0 524.8,493.9 544.1,507.3 563.3,495.4 582.6,508.6 601.9,497.0 621.2,509.9 640.4,498.6 659.7,511.2 679.0,500.2" fill="none" stroke="#fafafa" stroke-width="1.0" stroke-linejoin="round"/>
<line x1="106.0" y1="476.0" x2="679.0" y2="499.0" stroke="#1f1f1f" stroke-width="2.9120000000000004" stroke-linecap="round"/><line x1="106.0" y1="476.0" x2="679.0" y2="499.0" stroke="#f4f4f4" stroke-width="1.0483200000000001" stroke-linecap="round"/>
<line x1="106.0" y1="494.2" x2="679.0" y2="513.0" stroke="#1f1f1f" stroke-width="3.3600000000000003" stroke-linecap="round"/><line x1="106.0" y1="494.2" x2="679.0" y2="513.0" stroke="#f4f4f4" stroke-width="1.2096" stroke-linecap="round"/>
<polygon points="704.0,488.4 790.0,476.0 791.5,494.0 704.0,513.4" fill="#f0f0f0"/>
<polyline points="704.0,512.2 709.7,488.8 715.7,509.6 721.2,487.1 727.3,507.0 732.7,485.5 739.0,504.4 744.1,483.8 750.7,501.9 755.6,482.2 762.3,499.3 767.1,480.5 774.0,496.7 778.5,478.9 785.7,494.1 790.0,477.2" fill="none" stroke="#262626" stroke-width="2.4200000000000004" stroke-linejoin="round"/><polyline points="704.0,512.2 709.7,488.8 715.7,509.6 721.2,487.1 727.3,507.0 732.7,485.5 739.0,504.4 744.1,483.8 750.7,501.9 755.6,482.2 762.3,499.3 767.1,480.5 774.0,496.7 778.5,478.9 785.7,494.1 790.0,477.2" fill="none" stroke="#fafafa" stroke-width="0.8800000000000001" stroke-linejoin="round"/>
<line x1="704.0" y1="488.4" x2="790.0" y2="476.0" stroke="#1f1f1f" stroke-width="2.9120000000000004" stroke-linecap="round"/><line x1="704.0" y1="488.4" x2="790.0" y2="476.0" stroke="#f4f4f4" stroke-width="1.0483200000000001" stroke-linecap="round"/>
<line x1="704.0" y1="513.4" x2="791.5" y2="494.0" stroke="#1f1f1f" stroke-width="3.136" stroke-linecap="round"/><line x1="704.0" y1="513.4" x2="791.5" y2="494.0" stroke="#f4f4f4" stroke-width="1.12896" stroke-linecap="round"/>
<polygon points="92.6,468.0 163.2,449.2 163.2,474.3 99.6,490.2" fill="#eeeeee"/>
<path d="M93.8,471.7L163.2,453.4M94.9,475.4L163.2,457.6M96.1,479.1L163.2,461.8M97.3,482.8L163.2,465.9M98.4,486.5L163.2,470.1" stroke="#555" stroke-width="0.8" opacity="0.7" fill="none"/>
<polyline points="103.6,489.0 101.0,467.9 111.5,486.9 109.9,465.4 119.5,484.8 118.8,462.9 127.4,482.6 127.7,460.4 135.4,480.5 136.6,457.9 143.3,478.4 145.4,455.4 151.3,476.3 154.3,452.9 159.2,474.2 163.2,450.4" fill="none" stroke="#222" stroke-width="2.75" stroke-linejoin="round"/><polyline points="103.6,489.0 101.0,467.9 111.5,486.9 109.9,465.4 119.5,484.8 118.8,462.9 127.4,482.6 127.7,460.4 135.4,480.5 136.6,457.9 143.3,478.4 145.4,455.4 151.3,476.3 154.3,452.9 159.2,474.2 163.2,450.4" fill="none" stroke="#fafafa" stroke-width="1.0" stroke-linejoin="round"/>
<line x1="92.6" y1="468.0" x2="163.2" y2="449.2" stroke="#1f1f1f" stroke-width="3.3600000000000003" stroke-linecap="round"/><line x1="92.6" y1="468.0" x2="163.2" y2="449.2" stroke="#f4f4f4" stroke-width="1.2096" stroke-linecap="round"/>
<line x1="99.6" y1="490.2" x2="163.2" y2="474.3" stroke="#1f1f1f" stroke-width="3.3600000000000003" stroke-linecap="round"/><line x1="99.6" y1="490.2" x2="163.2" y2="474.3" stroke="#f4f4f4" stroke-width="1.2096" stroke-linecap="round"/>
<polyline points="208.0,448.9 226.9,468.8 245.7,450.4 264.6,470.1 283.5,451.8 302.4,471.4 321.2,453.3 340.1,472.7 359.0,454.7 377.8,474.1 396.7,456.2 415.6,475.4 434.5,457.6 453.3,476.7 472.2,459.1 491.1,478.0 509.9,460.6 528.8,479.3 547.7,462.0 566.5,480.7 585.4,463.5 604.3,482.0 623.2,464.9 642.0,483.3 660.9,466.4 679.8,484.6 698.6,467.9 717.5,486.0 736.4,469.3 755.3,487.3 774.1,470.8 793.0,488.6" fill="none" stroke="#262626" stroke-width="2.8600000000000003" stroke-linejoin="round"/><polyline points="208.0,448.9 226.9,468.8 245.7,450.4 264.6,470.1 283.5,451.8 302.4,471.4 321.2,453.3 340.1,472.7 359.0,454.7 377.8,474.1 396.7,456.2 415.6,475.4 434.5,457.6 453.3,476.7 472.2,459.1 491.1,478.0 509.9,460.6 528.8,479.3 547.7,462.0 566.5,480.7 585.4,463.5 604.3,482.0 623.2,464.9 642.0,483.3 660.9,466.4 679.8,484.6 698.6,467.9 717.5,486.0 736.4,469.3 755.3,487.3 774.1,470.8 793.0,488.6" fill="none" stroke="#fafafa" stroke-width="1.04" stroke-linejoin="round"/>
<line x1="190.0" y1="447.7" x2="793.0" y2="470.3" stroke="#1f1f1f" stroke-width="3.5840000000000005" stroke-linecap="round"/><line x1="190.0" y1="447.7" x2="793.0" y2="470.3" stroke="#f4f4f4" stroke-width="1.29024" stroke-linecap="round"/>
<line x1="190.0" y1="469.3" x2="793.0" y2="489.8" stroke="#1f1f1f" stroke-width="3.8080000000000003" stroke-linecap="round"/><line x1="190.0" y1="469.3" x2="793.0" y2="489.8" stroke="#f4f4f4" stroke-width="1.37088" stroke-linecap="round"/>
</g>
<g id="weight2">
<ellipse cx="455.3" cy="279" rx="32.8" ry="32.8" fill="none" stroke="#edf2f7" stroke-width="16.4"/>
<path d="M426.7,295.5 A33,33 0 1 1 482.3,297.9" fill="none" stroke="#c3cfdc" stroke-width="9" stroke-linecap="round" opacity="0.55"/>
<path d="M424.0,264.4 A34.5,34.5 0 0 1 487.3,266.1" fill="none" stroke="#5d7290" stroke-width="5.2" stroke-linecap="round" opacity="0.85"/>
<path d="M428.7,255.0 A35.8,35.8 0 0 1 484.6,258.5" fill="none" stroke="#1d2a3a" stroke-width="2.2" stroke-linecap="round" opacity="0.9"/>
<path d="M426.6,268.6 A30.5,30.5 0 0 1 470.6,252.6" fill="none" stroke="#ffffff" stroke-width="2.4" stroke-linecap="round" opacity="0.95"/>
<path d="M441.5,317.0 A40.4,40.4 0 0 1 430.4,247.2" fill="none" stroke="#27323f" stroke-width="1.8" stroke-linecap="round" opacity="1"/>
<path d="M430.6,247.3 A40.2,40.2 0 0 1 475.4,244.2" fill="none" stroke="#7e8da0" stroke-width="1.2" stroke-linecap="round" opacity="1"/>
<path d="M475.4,244.2 A40.2,40.2 0 0 1 469.0,316.8" fill="none" stroke="#1c2631" stroke-width="2.2" stroke-linecap="round" opacity="1"/>
<ellipse cx="455.7" cy="279.6" rx="24.4" ry="24.4" fill="none" stroke="#2a3644" stroke-width="1.5"/>
<path d="M441.7,303.6 A27.8,27.8 0 0 1 453.2,251.8" fill="none" stroke="#51627a" stroke-width="1.3" stroke-linecap="round" opacity="1"/>
<path d="M469.8,254.9 A28.4,28.4 0 0 1 469.8,304.1" fill="none" stroke="#6b7b90" stroke-width="1.1" stroke-linecap="round" opacity="1"/>
<path d="M345.3,326.5 Q346.8,318.6 352.7,317.2 L405.8,304.2 L397.4,447.0 L321.8,450.2 Z" fill="#f7f9fb" stroke="#8d9aab" stroke-width="0.9"/>
<polygon points="347.8,327.1 398.8,315.7 386.9,444.0 324.0,449.4" fill="url(#sideinner)" stroke="#5f6e80" stroke-width="0.9"/>
<polygon points="331.1,412.7 391.9,390.1 389.5,415.8 325.4,442.1" fill="#ffffff" opacity="0.55"/>
<path d="M344.3,331.8 Q346.8,318.6 352.7,317.2 L404.0,304.6" fill="none" stroke="#1d2631" stroke-width="2.6" stroke-linecap="round"/>
<line x1="348.8" y1="326.9" x2="397.8" y2="315.9" stroke="#ffffff" stroke-width="1.6"/>
<line x1="402.6" y1="309.2" x2="393.2" y2="444.0" stroke="#ffffff" stroke-width="4"/>
<line x1="399.4" y1="312.2" x2="389.0" y2="443.0" stroke="#3f4b5a" stroke-width="1.0"/>
<g transform="translate(335.3,415.4) rotate(-13) skewX(-14) scale(0.47,1)"><text x="0" y="0" font-size="53" font-weight="bold" fill="#59626d" stroke="#59626d" stroke-width="3.2" stroke-linejoin="round" letter-spacing="-1">350</text><text x="80" y="-1" font-size="21" font-weight="bold" fill="#59626d" stroke="#59626d" stroke-width="2.5600000000000005" letter-spacing="0">LBS</text></g>
<g transform="translate(334.4,414.7) rotate(-13) skewX(-14) scale(0.47,1)"><text x="0" y="0" font-size="53" font-weight="bold" fill="#3d454f" stroke="#3d454f" stroke-width="2.8" stroke-linejoin="round" letter-spacing="-1">350</text><text x="80" y="-1" font-size="21" font-weight="bold" fill="#3d454f" stroke="#3d454f" stroke-width="2.2399999999999998" letter-spacing="0">LBS</text></g>
<g transform="translate(333.5,414.0) rotate(-13) skewX(-14) scale(0.47,1)"><text x="0" y="0" font-size="53" font-weight="bold" fill="#1d232a" stroke="#1d232a" stroke-width="2.0" stroke-linejoin="round" letter-spacing="-1">350</text><text x="80" y="-1" font-size="21" font-weight="bold" fill="#1d232a" stroke="#1d232a" stroke-width="1.6" letter-spacing="0">LBS</text></g>
<g transform="translate(332.9,413.6) rotate(-13) skewX(-14) scale(0.47,1)"><text x="0" y="0" font-size="53" font-weight="bold" fill="none" stroke="#c9d2dc" stroke-width="1.2" opacity="0.65" letter-spacing="-1">350</text></g>
<polygon points="405.8,304.2 561.3,310.8 587.9,458.0 397.4,447.0" fill="url(#frameg)" stroke="#2d3744" stroke-width="1.3" stroke-linejoin="round"/>
<polygon points="415.8,310.7 557.8,317.8 583.4,450.0 406.9,440.5" fill="url(#panelg)" stroke="#4c596b" stroke-width="1"/>
<polygon points="415.8,310.7 557.8,317.8 583.4,450.0 406.9,440.5" fill="url(#panelshade)"/>
<polygon points="415.8,310.7 557.8,317.8 583.4,450.0 406.9,440.5" fill="#ffffff" filter="url(#grain)" opacity="0.5"/>
<line x1="415.8" y1="311.9" x2="557.8" y2="319.0" stroke="#354152" stroke-width="2.2" opacity="0.8"/>
<line x1="407.9" y1="442.5" x2="583.4" y2="452.0" stroke="#f5f8fb" stroke-width="2.4"/>
<line x1="399.4" y1="443.4" x2="585.9" y2="454.4" stroke="#8f9bab" stroke-width="3.6" opacity="0.9"/>
<line x1="398.4" y1="445.8" x2="586.9" y2="456.8" stroke="#4a5768" stroke-width="2.0" opacity="0.9"/>
<line x1="410.3" y1="308.2" x2="401.9" y2="443.0" stroke="#ffffff" stroke-width="4.5" opacity="0.85"/>
<g transform="translate(414.5,409.4) rotate(3.0)"><text x="0" y="0" font-size="55.7" font-weight="bold" fill="#f0f4f8" textLength="91.5" lengthAdjust="spacingAndGlyphs" stroke="#f0f4f8" stroke-width="1.6" stroke-linejoin="round">350</text><text x="96.5" y="-0.6" font-size="27.3" font-weight="bold" fill="#f0f4f8" textLength="50.5" lengthAdjust="spacingAndGlyphs" stroke="#f0f4f8" stroke-width="0.9">LBS</text></g>
<g transform="translate(417.2,407.3) rotate(3.0)"><text x="0" y="0" font-size="55.7" font-weight="bold" fill="#11161c" textLength="91.5" lengthAdjust="spacingAndGlyphs" stroke="#11161c" stroke-width="1.6" stroke-linejoin="round">350</text><text x="96.5" y="-0.6" font-size="27.3" font-weight="bold" fill="#11161c" textLength="50.5" lengthAdjust="spacingAndGlyphs" stroke="#11161c" stroke-width="0.9">LBS</text></g>
<g transform="translate(416.4,407.8) rotate(3.0)"><text x="0" y="0" font-size="55.7" font-weight="bold" fill="#262c34" textLength="91.5" lengthAdjust="spacingAndGlyphs" stroke="#262c34" stroke-width="1.6" stroke-linejoin="round">350</text><text x="96.5" y="-0.6" font-size="27.3" font-weight="bold" fill="#262c34" textLength="50.5" lengthAdjust="spacingAndGlyphs" stroke="#262c34" stroke-width="0.9">LBS</text></g>
</g>
<g id="shelf3">
<polygon points="190.0,680.4 793.0,691.5 679.0,713.0 106.0,695.0" fill="#f3f3f3"/>
<path d="M176.0,682.8L774.0,695.1M162.0,685.3L755.0,698.7M148.0,687.7L736.0,702.2M134.0,690.1L717.0,705.8M120.0,692.6L698.0,709.4" stroke="#2c2c2c" stroke-width="1.4" opacity="0.9" fill="none"/>
<polygon points="190.0,680.4 793.0,691.5 793.0,710.3 190.0,701.2" fill="#383838" opacity="0.62"/>
<line x1="262.2" y1="702.8" x2="184.1" y2="694.3" stroke="#2e2e2e" stroke-width="2.2" opacity="0.9"/>
<line x1="262.2" y1="702.8" x2="184.1" y2="694.3" stroke="#e8e8e8" stroke-width="0.8" opacity="0.9"/>
<line x1="262.2" y1="702.8" x2="297.4" y2="706.7" stroke="#3a3a3a" stroke-width="2.0" opacity="0.8"/>
<line x1="419.0" y1="705.2" x2="333.1" y2="698.9" stroke="#2e2e2e" stroke-width="2.2" opacity="0.9"/>
<line x1="419.0" y1="705.2" x2="333.1" y2="698.9" stroke="#e8e8e8" stroke-width="0.8" opacity="0.9"/>
<line x1="419.0" y1="705.2" x2="457.6" y2="708.0" stroke="#3a3a3a" stroke-width="2.0" opacity="0.8"/>
<line x1="581.8" y1="707.7" x2="487.8" y2="703.8" stroke="#2e2e2e" stroke-width="2.2" opacity="0.9"/>
<line x1="581.8" y1="707.7" x2="487.8" y2="703.8" stroke="#e8e8e8" stroke-width="0.8" opacity="0.9"/>
<line x1="581.8" y1="707.7" x2="624.1" y2="709.4" stroke="#3a3a3a" stroke-width="2.0" opacity="0.8"/>
<line x1="738.6" y1="710.0" x2="636.8" y2="708.5" stroke="#2e2e2e" stroke-width="2.2" opacity="0.9"/>
<line x1="738.6" y1="710.0" x2="636.8" y2="708.5" stroke="#e8e8e8" stroke-width="0.8" opacity="0.9"/>
<line x1="738.6" y1="710.0" x2="784.4" y2="710.7" stroke="#3a3a3a" stroke-width="2.0" opacity="0.8"/>
<polygon points="106.0,695.0 679.0,713.0 679.0,726.5 106.0,711.5" fill="#ffffff"/>
<polyline points="120.0,710.3 139.3,696.8 158.6,711.3 177.8,698.1 197.1,712.4 216.4,699.3 235.7,713.4 254.9,700.5 274.2,714.4 293.5,701.8 312.8,715.5 332.0,703.0 351.3,716.5 370.6,704.3 389.9,717.5 409.1,705.5 428.4,718.6 447.7,706.8 467.0,719.6 486.2,708.0 505.5,720.6 524.8,709.2 544.1,721.7 563.3,710.5 582.6,722.7 601.9,711.7 621.2,723.7 640.4,713.0 659.7,724.8 679.0,714.2" fill="none" stroke="#262626" stroke-width="2.75" stroke-linejoin="round"/><polyline points="120.0,710.3 139.3,696.8 158.6,711.3 177.8,698.1 197.1,712.4 216.4,699.3 235.7,713.4 254.9,700.5 274.2,714.4 293.5,701.8 312.8,715.5 332.0,703.0 351.3,716.5 370.6,704.3 389.9,717.5 409.1,705.5 428.4,718.6 447.7,706.8 467.0,719.6 486.2,708.0 505.5,720.6 524.8,709.2 544.1,721.7 563.3,710.5 582.6,722.7 601.9,711.7 621.2,723.7 640.4,713.0 659.7,724.8 679.0,714.2" fill="none" stroke="#fafafa" stroke-width="1.0" stroke-linejoin="round"/>
<line x1="106.0" y1="695.0" x2="679.0" y2="713.0" stroke="#1f1f1f" stroke-width="2.9120000000000004" stroke-linecap="round"/><line x1="106.0" y1="695.0" x2="679.0" y2="713.0" stroke="#f4f4f4" stroke-width="1.0483200000000001" stroke-linecap="round"/>
<line x1="106.0" y1="711.5" x2="679.0" y2="726.5" stroke="#1f1f1f" stroke-width="3.3600000000000003" stroke-linecap="round"/><line x1="106.0" y1="711.5" x2="679.0" y2="726.5" stroke="#f4f4f4" stroke-width="1.2096" stroke-linecap="round"/>
<polygon points="702.3,708.5 791.4,701.7 791.4,717.0 702.3,725.7" fill="#f0f0f0"/>
<polyline points="702.3,724.5 708.2,709.2 714.2,723.3 720.1,708.3 726.1,722.2 732.0,707.4 737.9,721.0 743.9,706.5 749.8,719.9 755.8,705.6 761.7,718.7 767.6,704.7 773.6,717.5 779.5,703.8 785.5,716.4 791.4,702.9" fill="none" stroke="#262626" stroke-width="2.4200000000000004" stroke-linejoin="round"/><polyline points="702.3,724.5 708.2,709.2 714.2,723.3 720.1,708.3 726.1,722.2 732.0,707.4 737.9,721.0 743.9,706.5 749.8,719.9 755.8,705.6 761.7,718.7 767.6,704.7 773.6,717.5 779.5,703.8 785.5,716.4 791.4,702.9" fill="none" stroke="#fafafa" stroke-width="0.8800000000000001" stroke-linejoin="round"/>
<line x1="702.3" y1="708.5" x2="791.4" y2="701.7" stroke="#1f1f1f" stroke-width="2.9120000000000004" stroke-linecap="round"/><line x1="702.3" y1="708.5" x2="791.4" y2="701.7" stroke="#f4f4f4" stroke-width="1.0483200000000001" stroke-linecap="round"/>
<line x1="702.3" y1="725.7" x2="791.4" y2="717.0" stroke="#1f1f1f" stroke-width="3.136" stroke-linecap="round"/><line x1="702.3" y1="725.7" x2="791.4" y2="717.0" stroke="#f4f4f4" stroke-width="1.12896" stroke-linecap="round"/>
<polygon points="92.6,687.0 163.2,681.9 163.2,706.2 99.6,707.5" fill="#eeeeee"/>
<path d="M93.8,690.4L163.2,686.0M94.9,693.8L163.2,690.0M96.1,697.2L163.2,694.0M97.3,700.7L163.2,698.1M98.4,704.1L163.2,702.2" stroke="#555" stroke-width="0.8" opacity="0.7" fill="none"/>
<polyline points="103.6,706.3 101.0,687.9 111.5,706.1 109.9,687.2 119.5,706.0 118.8,686.5 127.4,705.8 127.7,685.8 135.4,705.6 136.6,685.1 143.3,705.4 145.4,684.5 151.3,705.3 154.3,683.8 159.2,705.1 163.2,683.1" fill="none" stroke="#222" stroke-width="2.75" stroke-linejoin="round"/><polyline points="103.6,706.3 101.0,687.9 111.5,706.1 109.9,687.2 119.5,706.0 118.8,686.5 127.4,705.8 127.7,685.8 135.4,705.6 136.6,685.1 143.3,705.4 145.4,684.5 151.3,705.3 154.3,683.8 159.2,705.1 163.2,683.1" fill="none" stroke="#fafafa" stroke-width="1.0" stroke-linejoin="round"/>
<line x1="92.6" y1="687.0" x2="163.2" y2="681.9" stroke="#1f1f1f" stroke-width="3.3600000000000003" stroke-linecap="round"/><line x1="92.6" y1="687.0" x2="163.2" y2="681.9" stroke="#f4f4f4" stroke-width="1.2096" stroke-linecap="round"/>
<line x1="99.6" y1="707.5" x2="163.2" y2="706.2" stroke="#1f1f1f" stroke-width="3.3600000000000003" stroke-linecap="round"/><line x1="99.6" y1="707.5" x2="163.2" y2="706.2" stroke="#f4f4f4" stroke-width="1.2096" stroke-linecap="round"/>
<polyline points="208.0,681.6 226.9,700.3 245.7,682.3 264.6,700.9 283.5,683.0 302.4,701.5 321.2,683.7 340.1,702.1 359.0,684.5 377.8,702.6 396.7,685.2 415.6,703.2 434.5,685.9 453.3,703.8 472.2,686.6 491.1,704.4 509.9,687.3 528.8,705.0 547.7,688.0 566.5,705.6 585.4,688.8 604.3,706.2 623.2,689.5 642.0,706.8 660.9,690.2 679.8,707.3 698.6,690.9 717.5,707.9 736.4,691.6 755.3,708.5 774.1,692.3 793.0,709.1" fill="none" stroke="#262626" stroke-width="2.8600000000000003" stroke-linejoin="round"/><polyline points="208.0,681.6 226.9,700.3 245.7,682.3 264.6,700.9 283.5,683.0 302.4,701.5 321.2,683.7 340.1,702.1 359.0,684.5 377.8,702.6 396.7,685.2 415.6,703.2 434.5,685.9 453.3,703.8 472.2,686.6 491.1,704.4 509.9,687.3 528.8,705.0 547.7,688.0 566.5,705.6 585.4,688.8 604.3,706.2 623.2,689.5 642.0,706.8 660.9,690.2 679.8,707.3 698.6,690.9 717.5,707.9 736.4,691.6 755.3,708.5 774.1,692.3 793.0,709.1" fill="none" stroke="#fafafa" stroke-width="1.04" stroke-linejoin="round"/>
<line x1="190.0" y1="680.4" x2="793.0" y2="691.5" stroke="#1f1f1f" stroke-width="3.5840000000000005" stroke-linecap="round"/><line x1="190.0" y1="680.4" x2="793.0" y2="691.5" stroke="#f4f4f4" stroke-width="1.29024" stroke-linecap="round"/>
<line x1="190.0" y1="701.2" x2="793.0" y2="710.3" stroke="#1f1f1f" stroke-width="3.8080000000000003" stroke-linecap="round"/><line x1="190.0" y1="701.2" x2="793.0" y2="710.3" stroke="#f4f4f4" stroke-width="1.37088" stroke-linecap="round"/>
</g>
<g id="weight3">
<ellipse cx="455.3" cy="514" rx="32.8" ry="32.8" fill="none" stroke="#edf2f7" stroke-width="16.4"/>
<path d="M426.7,530.5 A33,33 0 1 1 482.3,532.9" fill="none" stroke="#c3cfdc" stroke-width="9" stroke-linecap="round" opacity="0.55"/>
<path d="M424.0,499.4 A34.5,34.5 0 0 1 487.3,501.1" fill="none" stroke="#5d7290" stroke-width="5.2" stroke-linecap="round" opacity="0.85"/>
<path d="M428.7,490.0 A35.8,35.8 0 0 1 484.6,493.5" fill="none" stroke="#1d2a3a" stroke-width="2.2" stroke-linecap="round" opacity="0.9"/>
<path d="M426.6,503.6 A30.5,30.5 0 0 1 470.6,487.6" fill="none" stroke="#ffffff" stroke-width="2.4" stroke-linecap="round" opacity="0.95"/>
<path d="M441.5,552.0 A40.4,40.4 0 0 1 430.4,482.2" fill="none" stroke="#27323f" stroke-width="1.8" stroke-linecap="round" opacity="1"/>
<path d="M430.6,482.3 A40.2,40.2 0 0 1 475.4,479.2" fill="none" stroke="#7e8da0" stroke-width="1.2" stroke-linecap="round" opacity="1"/>
<path d="M475.4,479.2 A40.2,40.2 0 0 1 469.0,551.8" fill="none" stroke="#1c2631" stroke-width="2.2" stroke-linecap="round" opacity="1"/>
<ellipse cx="455.7" cy="514.6" rx="24.4" ry="24.4" fill="none" stroke="#2a3644" stroke-width="1.5"/>
<path d="M441.7,538.6 A27.8,27.8 0 0 1 453.2,486.8" fill="none" stroke="#51627a" stroke-width="1.3" stroke-linecap="round" opacity="1"/>
<path d="M469.8,489.9 A28.4,28.4 0 0 1 469.8,539.1" fill="none" stroke="#6b7b90" stroke-width="1.1" stroke-linecap="round" opacity="1"/>
<path d="M345.3,553.0 Q346.8,545.0 352.7,543.9 L405.8,534.2 L397.4,679.2 L321.6,679.0 Z" fill="#f7f9fb" stroke="#8d9aab" stroke-width="0.9"/>
<polygon points="347.8,553.5 398.8,545.7 386.9,676.2 323.8,678.2" fill="url(#sideinner)" stroke="#5f6e80" stroke-width="0.9"/>
<polygon points="331.0,640.8 391.9,621.4 389.5,647.5 325.2,670.7" fill="#ffffff" opacity="0.55"/>
<path d="M344.3,558.4 Q346.8,545.0 352.7,543.9 L404.0,534.5" fill="none" stroke="#1d2631" stroke-width="2.6" stroke-linecap="round"/>
<line x1="348.8" y1="553.3" x2="397.8" y2="545.9" stroke="#ffffff" stroke-width="1.6"/>
<line x1="402.6" y1="539.2" x2="393.2" y2="676.2" stroke="#ffffff" stroke-width="4"/>
<line x1="399.4" y1="542.2" x2="389.0" y2="675.2" stroke="#3f4b5a" stroke-width="1.0"/>
<g transform="translate(335.3,644.4) rotate(-13) skewX(-14) scale(0.47,1)"><text x="0" y="0" font-size="53" font-weight="bold" fill="#59626d" stroke="#59626d" stroke-width="3.2" stroke-linejoin="round" letter-spacing="-1">350</text><text x="80" y="-1" font-size="21" font-weight="bold" fill="#59626d" stroke="#59626d" stroke-width="2.5600000000000005" letter-spacing="0">LBS</text></g>
<g transform="translate(334.4,643.7) rotate(-13) skewX(-14) scale(0.47,1)"><text x="0" y="0" font-size="53" font-weight="bold" fill="#3d454f" stroke="#3d454f" stroke-width="2.8" stroke-linejoin="round" letter-spacing="-1">350</text><text x="80" y="-1" font-size="21" font-weight="bold" fill="#3d454f" stroke="#3d454f" stroke-width="2.2399999999999998" letter-spacing="0">LBS</text></g>
<g transform="translate(333.5,643.0) rotate(-13) skewX(-14) scale(0.47,1)"><text x="0" y="0" font-size="53" font-weight="bold" fill="#1d232a" stroke="#1d232a" stroke-width="2.0" stroke-linejoin="round" letter-spacing="-1">350</text><text x="80" y="-1" font-size="21" font-weight="bold" fill="#1d232a" stroke="#1d232a" stroke-width="1.6" letter-spacing="0">LBS</text></g>
<g transform="translate(332.9,642.6) rotate(-13) skewX(-14) scale(0.47,1)"><text x="0" y="0" font-size="53" font-weight="bold" fill="none" stroke="#c9d2dc" stroke-width="1.2" opacity="0.65" letter-spacing="-1">350</text></g>
<polygon points="405.8,534.2 561.3,537.5 588.0,683.6 397.4,679.2" fill="url(#frameg)" stroke="#2d3744" stroke-width="1.3" stroke-linejoin="round"/>
<polygon points="415.8,540.7 557.8,544.5 583.5,675.6 406.9,672.7" fill="url(#panelg)" stroke="#4c596b" stroke-width="1"/>
<polygon points="415.8,540.7 557.8,544.5 583.5,675.6 406.9,672.7" fill="url(#panelshade)"/>
<polygon points="415.8,540.7 557.8,544.5 583.5,675.6 406.9,672.7" fill="#ffffff" filter="url(#grain)" opacity="0.5"/>
<line x1="415.8" y1="541.9" x2="557.8" y2="545.7" stroke="#354152" stroke-width="2.2" opacity="0.8"/>
<line x1="407.9" y1="674.7" x2="583.5" y2="677.6" stroke="#f5f8fb" stroke-width="2.4"/>
<line x1="399.4" y1="675.6" x2="586.0" y2="680.0" stroke="#8f9bab" stroke-width="3.6" opacity="0.9"/>
<line x1="398.4" y1="678.0" x2="587.0" y2="682.4" stroke="#4a5768" stroke-width="2.0" opacity="0.9"/>
<line x1="410.3" y1="538.2" x2="401.9" y2="675.2" stroke="#ffffff" stroke-width="4.5" opacity="0.85"/>
<g transform="translate(414.5,636.0) rotate(2.5)"><text x="0" y="0" font-size="55.0" font-weight="bold" fill="#f0f4f8" textLength="91.5" lengthAdjust="spacingAndGlyphs" stroke="#f0f4f8" stroke-width="1.6" stroke-linejoin="round">350</text><text x="96.5" y="-0.6" font-size="27.0" font-weight="bold" fill="#f0f4f8" textLength="50.5" lengthAdjust="spacingAndGlyphs" stroke="#f0f4f8" stroke-width="0.9">LBS</text></g>
<g transform="translate(417.2,633.9) rotate(2.5)"><text x="0" y="0" font-size="55.0" font-weight="bold" fill="#11161c" textLength="91.5" lengthAdjust="spacingAndGlyphs" stroke="#11161c" stroke-width="1.6" stroke-linejoin="round">350</text><text x="96.5" y="-0.6" font-size="27.0" font-weight="bold" fill="#11161c" textLength="50.5" lengthAdjust="spacingAndGlyphs" stroke="#11161c" stroke-width="0.9">LBS</text></g>
<g transform="translate(416.4,634.4) rotate(2.5)"><text x="0" y="0" font-size="55.0" font-weight="bold" fill="#262c34" textLength="91.5" lengthAdjust="spacingAndGlyphs" stroke="#262c34" stroke-width="1.6" stroke-linejoin="round">350</text><text x="96.5" y="-0.6" font-size="27.0" font-weight="bold" fill="#262c34" textLength="50.5" lengthAdjust="spacingAndGlyphs" stroke="#262c34" stroke-width="0.9">LBS</text></g>
</g>
<g id="shelf4">
<polygon points="99.6,950.4 163.2,950.4 163.2,971.2 99.6,971.2" fill="#f2f2f2"/>
<polyline points="104.6,970.0 108.4,951.6 112.1,970.0 115.9,951.6 119.7,970.0 123.5,951.6 127.2,970.0 131.0,951.6 134.8,970.0 138.6,951.6 142.3,970.0 146.1,951.6 149.9,970.0 153.7,951.6 157.4,970.0 161.2,951.6" fill="none" stroke="#222" stroke-width="2.75" stroke-linejoin="round"/><polyline points="104.6,970.0 108.4,951.6 112.1,970.0 115.9,951.6 119.7,970.0 123.5,951.6 127.2,970.0 131.0,951.6 134.8,970.0 138.6,951.6 142.3,970.0 146.1,951.6 149.9,970.0 153.7,951.6 157.4,970.0 161.2,951.6" fill="none" stroke="#fafafa" stroke-width="1.0" stroke-linejoin="round"/>
<line x1="99.6" y1="950.4" x2="163.2" y2="950.4" stroke="#1f1f1f" stroke-width="3.3600000000000003" stroke-linecap="round"/><line x1="99.6" y1="950.4" x2="163.2" y2="950.4" stroke="#f4f4f4" stroke-width="1.2096" stroke-linecap="round"/>
<line x1="99.6" y1="971.2" x2="163.2" y2="971.2" stroke="#1f1f1f" stroke-width="3.3600000000000003" stroke-linecap="round"/><line x1="99.6" y1="971.2" x2="163.2" y2="971.2" stroke="#f4f4f4" stroke-width="1.2096" stroke-linecap="round"/>
<polygon points="190.0,951.8 793.0,951.8 793.0,972.6 190.0,971.2" fill="#f1f1f1"/>
<polyline points="210.0,970.0 231.6,953.0 253.2,970.1 274.8,953.0 296.4,970.2 318.0,953.0 339.6,970.3 361.1,953.0 382.7,970.4 404.3,953.0 425.9,970.5 447.5,953.0 469.1,970.6 490.7,953.0 512.3,970.7 533.9,953.0 555.5,970.8 577.1,953.0 598.7,970.9 620.3,953.0 641.9,971.0 663.4,953.0 685.0,971.1 706.6,953.0 728.2,971.2 749.8,953.0 771.4,971.3 793.0,953.0" fill="none" stroke="#8a8a8a" stroke-width="1.9800000000000002" stroke-linejoin="round"/><polyline points="210.0,970.0 231.6,953.0 253.2,970.1 274.8,953.0 296.4,970.2 318.0,953.0 339.6,970.3 361.1,953.0 382.7,970.4 404.3,953.0 425.9,970.5 447.5,953.0 469.1,970.6 490.7,953.0 512.3,970.7 533.9,953.0 555.5,970.8 577.1,953.0 598.7,970.9 620.3,953.0 641.9,971.0 663.4,953.0 685.0,971.1 706.6,953.0 728.2,971.2 749.8,953.0 771.4,971.3 793.0,953.0" fill="none" stroke="#fafafa" stroke-width="0.7200000000000001" stroke-linejoin="round"/>
<polyline points="190.0,970.0 208.8,953.0 227.7,970.1 246.5,953.0 265.4,970.2 284.2,953.0 303.1,970.3 321.9,953.0 340.8,970.4 359.6,953.0 378.4,970.4 397.3,953.0 416.1,970.5 435.0,953.0 453.8,970.6 472.7,953.0 491.5,970.7 510.3,953.0 529.2,970.8 548.0,953.0 566.9,970.9 585.7,953.0 604.6,971.0 623.4,953.0 642.2,971.0 661.1,953.0 679.9,971.1 698.8,953.0 717.6,971.2 736.5,953.0 755.3,971.3 774.2,953.0 793.0,971.4" fill="none" stroke="#262626" stroke-width="2.64" stroke-linejoin="round"/><polyline points="190.0,970.0 208.8,953.0 227.7,970.1 246.5,953.0 265.4,970.2 284.2,953.0 303.1,970.3 321.9,953.0 340.8,970.4 359.6,953.0 378.4,970.4 397.3,953.0 416.1,970.5 435.0,953.0 453.8,970.6 472.7,953.0 491.5,970.7 510.3,953.0 529.2,970.8 548.0,953.0 566.9,970.9 585.7,953.0 604.6,971.0 623.4,953.0 642.2,971.0 661.1,953.0 679.9,971.1 698.8,953.0 717.6,971.2 736.5,953.0 755.3,971.3 774.2,953.0 793.0,971.4" fill="none" stroke="#fafafa" stroke-width="0.96" stroke-linejoin="round"/>
<line x1="190.0" y1="954.0" x2="793.0" y2="954.0" stroke="#999" stroke-width="2.24" stroke-linecap="round"/><line x1="190.0" y1="954.0" x2="793.0" y2="954.0" stroke="#f4f4f4" stroke-width="0.8064" stroke-linecap="round"/>
<line x1="190.0" y1="951.8" x2="793.0" y2="951.8" stroke="#1f1f1f" stroke-width="3.5840000000000005" stroke-linecap="round"/><line x1="190.0" y1="951.8" x2="793.0" y2="951.8" stroke="#f4f4f4" stroke-width="1.29024" stroke-linecap="round"/>
<line x1="190.0" y1="971.2" x2="793.0" y2="972.6" stroke="#1f1f1f" stroke-width="3.5840000000000005" stroke-linecap="round"/><line x1="190.0" y1="971.2" x2="793.0" y2="972.6" stroke="#f4f4f4" stroke-width="1.29024" stroke-linecap="round"/>
</g>
<g id="weight4">
<ellipse cx="455.3" cy="759.6" rx="32.8" ry="31.8" fill="none" stroke="#edf2f7" stroke-width="16.4"/>
<path d="M426.7,775.6 A33,32 0 1 1 482.3,778.0" fill="none" stroke="#c3cfdc" stroke-width="9" stroke-linecap="round" opacity="0.55"/>
<path d="M424.0,745.4 A34.5,33.5 0 0 1 487.3,747.1" fill="none" stroke="#5d7290" stroke-width="5.2" stroke-linecap="round" opacity="0.85"/>
<path d="M428.7,736.3 A35.8,34.8 0 0 1 484.6,739.6" fill="none" stroke="#1d2a3a" stroke-width="2.2" stroke-linecap="round" opacity="0.9"/>
<path d="M426.6,749.5 A30.5,29.5 0 0 1 470.6,734.1" fill="none" stroke="#ffffff" stroke-width="2.4" stroke-linecap="round" opacity="0.95"/>
<path d="M441.5,796.6 A40.4,39.4 0 0 1 430.4,728.6" fill="none" stroke="#27323f" stroke-width="1.8" stroke-linecap="round" opacity="1"/>
<path d="M430.6,728.7 A40.2,39.2 0 0 1 475.4,725.7" fill="none" stroke="#7e8da0" stroke-width="1.2" stroke-linecap="round" opacity="1"/>
<path d="M475.4,725.7 A40.2,39.2 0 0 1 469.0,796.4" fill="none" stroke="#1c2631" stroke-width="2.2" stroke-linecap="round" opacity="1"/>
<ellipse cx="455.7" cy="760.2" rx="24.4" ry="23.4" fill="none" stroke="#2a3644" stroke-width="1.5"/>
<path d="M441.7,783.3 A27.8,26.8 0 0 1 453.2,733.4" fill="none" stroke="#51627a" stroke-width="1.3" stroke-linecap="round" opacity="1"/>
<path d="M469.8,736.4 A28.4,27.4 0 0 1 469.8,783.8" fill="none" stroke="#6b7b90" stroke-width="1.1" stroke-linecap="round" opacity="1"/>
<polygon points="353.0,795.5 556.9,792.5 562.4,797.5 405.8,797.5 347.6,803.0" fill="#cfd8e2" stroke="#5e6b7c" stroke-width="0.8"/>
<line x1="356.0" y1="797.0" x2="554.9" y2="794.0" stroke="#ffffff" stroke-width="2" opacity="0.9"/>
<path d="M345.9,811.5 Q347.6,803.0 353.4,802.5 L405.8,797.5 L397.4,944.7 L320.0,944.7 Z" fill="#f7f9fb" stroke="#8d9aab" stroke-width="0.9"/>
<polygon points="348.6,811.5 398.8,809.0 386.9,941.7 322.2,943.9" fill="url(#sideinner)" stroke="#5f6e80" stroke-width="0.9"/>
<polygon points="330.1,904.2 391.9,886.0 389.5,912.5 323.8,936.0" fill="#ffffff" opacity="0.55"/>
<path d="M344.8,817.2 Q347.6,803.0 353.4,802.5 L404.1,797.7" fill="none" stroke="#1d2631" stroke-width="2.6" stroke-linecap="round"/>
<line x1="349.6" y1="811.5" x2="397.8" y2="809.0" stroke="#ffffff" stroke-width="1.6"/>
<line x1="402.6" y1="802.5" x2="393.2" y2="941.7" stroke="#ffffff" stroke-width="4"/>
<line x1="399.4" y1="805.5" x2="389.0" y2="940.7" stroke="#3f4b5a" stroke-width="1.0"/>
<g transform="translate(335.3,903.0) rotate(-13) skewX(-14) scale(0.47,1)"><text x="0" y="0" font-size="53" font-weight="bold" fill="#59626d" stroke="#59626d" stroke-width="3.2" stroke-linejoin="round" letter-spacing="-1">350</text><text x="80" y="-1" font-size="21" font-weight="bold" fill="#59626d" stroke="#59626d" stroke-width="2.5600000000000005" letter-spacing="0">LBS</text></g>
<g transform="translate(334.4,902.3) rotate(-13) skewX(-14) scale(0.47,1)"><text x="0" y="0" font-size="53" font-weight="bold" fill="#3d454f" stroke="#3d454f" stroke-width="2.8" stroke-linejoin="round" letter-spacing="-1">350</text><text x="80" y="-1" font-size="21" font-weight="bold" fill="#3d454f" stroke="#3d454f" stroke-width="2.2399999999999998" letter-spacing="0">LBS</text></g>
<g transform="translate(333.5,901.6) rotate(-13) skewX(-14) scale(0.47,1)"><text x="0" y="0" font-size="53" font-weight="bold" fill="#1d232a" stroke="#1d232a" stroke-width="2.0" stroke-linejoin="round" letter-spacing="-1">350</text><text x="80" y="-1" font-size="21" font-weight="bold" fill="#1d232a" stroke="#1d232a" stroke-width="1.6" letter-spacing="0">LBS</text></g>
<g transform="translate(332.9,901.2) rotate(-13) skewX(-14) scale(0.47,1)"><text x="0" y="0" font-size="53" font-weight="bold" fill="none" stroke="#c9d2dc" stroke-width="1.2" opacity="0.65" letter-spacing="-1">350</text></g>
<polygon points="405.8,797.5 562.4,797.5 587.9,947.0 397.4,944.7" fill="url(#frameg)" stroke="#2d3744" stroke-width="1.3" stroke-linejoin="round"/>
<polyline points="350.1,806.2 404.8,799.5" fill="none" stroke="#2a3646" stroke-width="2.6" opacity="0.8"/>
<polyline points="408.8,799.7 559.4,799.7" fill="none" stroke="#3a475a" stroke-width="2.4" opacity="0.7"/>
<polygon points="415.8,804.0 558.9,804.5 583.4,939.0 406.9,938.2" fill="url(#panelg)" stroke="#4c596b" stroke-width="1"/>
<polygon points="415.8,804.0 558.9,804.5 583.4,939.0 406.9,938.2" fill="url(#panelshade)"/>
<polygon points="415.8,804.0 558.9,804.5 583.4,939.0 406.9,938.2" fill="#ffffff" filter="url(#grain)" opacity="0.5"/>
<line x1="415.8" y1="805.2" x2="558.9" y2="805.7" stroke="#354152" stroke-width="2.2" opacity="0.8"/>
<line x1="407.9" y1="940.2" x2="583.4" y2="941.0" stroke="#f5f8fb" stroke-width="2.4"/>
<line x1="399.4" y1="941.1" x2="585.9" y2="943.4" stroke="#8f9bab" stroke-width="3.6" opacity="0.9"/>
<line x1="398.4" y1="943.5" x2="586.9" y2="945.8" stroke="#4a5768" stroke-width="2.0" opacity="0.9"/>
<line x1="410.3" y1="801.5" x2="401.9" y2="940.7" stroke="#ffffff" stroke-width="4.5" opacity="0.85"/>
<g transform="translate(414.5,895.4) rotate(2.0)"><text x="0" y="0" font-size="53.6" font-weight="bold" fill="#f0f4f8" textLength="91.5" lengthAdjust="spacingAndGlyphs" stroke="#f0f4f8" stroke-width="1.6" stroke-linejoin="round">350</text><text x="96.5" y="-0.6" font-size="26.3" font-weight="bold" fill="#f0f4f8" textLength="50.5" lengthAdjust="spacingAndGlyphs" stroke="#f0f4f8" stroke-width="0.9">LBS</text></g>
<g transform="translate(417.2,893.3) rotate(2.0)"><text x="0" y="0" font-size="53.6" font-weight="bold" fill="#11161c" textLength="91.5" lengthAdjust="spacingAndGlyphs" stroke="#11161c" stroke-width="1.6" stroke-linejoin="round">350</text><text x="96.5" y="-0.6" font-size="26.3" font-weight="bold" fill="#11161c" textLength="50.5" lengthAdjust="spacingAndGlyphs" stroke="#11161c" stroke-width="0.9">LBS</text></g>
<g transform="translate(416.4,893.8) rotate(2.0)"><text x="0" y="0" font-size="53.6" font-weight="bold" fill="#262c34" textLength="91.5" lengthAdjust="spacingAndGlyphs" stroke="#262c34" stroke-width="1.6" stroke-linejoin="round">350</text><text x="96.5" y="-0.6" font-size="26.3" font-weight="bold" fill="#262c34" textLength="50.5" lengthAdjust="spacingAndGlyphs" stroke="#262c34" stroke-width="0.9">LBS</text></g>
</g>
<g id="shelf5">
<polygon points="101.5,1199.0 703.0,1190.0 795.0,1201.0 190.0,1214.0" fill="#dcdcdc"/>
<path d="M107.0,1199.9L708.8,1190.7M112.6,1200.9L714.5,1191.4M118.1,1201.8L720.2,1192.1M123.6,1202.8L726.0,1192.8M129.2,1203.7L731.8,1193.4M134.7,1204.6L737.5,1194.1M140.2,1205.6L743.2,1194.8M145.8,1206.5L749.0,1195.5M151.3,1207.4L754.8,1196.2M156.8,1208.4L760.5,1196.9M162.3,1209.3L766.2,1197.6M167.9,1210.2L772.0,1198.2M173.4,1211.2L777.8,1198.9M178.9,1212.1L783.5,1199.6M184.5,1213.1L789.2,1200.3" stroke="#9b9b9b" stroke-width="0.8" opacity="0.9" fill="none"/>
<path d="M111.3,1200.7L713.2,1191.2M121.2,1202.3L723.4,1192.4M131.0,1204.0L733.7,1193.7M140.8,1205.7L743.9,1194.9M150.7,1207.3L754.1,1196.1M160.5,1209.0L764.3,1197.3M170.3,1210.7L774.6,1198.6M180.2,1212.3L784.8,1199.8" stroke="#ffffff" stroke-width="0.8" opacity="0.9" fill="none"/>
<line x1="101.5" y1="1199.0" x2="703.0" y2="1190.0" stroke="#1f1f1f" stroke-width="2.688" stroke-linecap="round"/><line x1="101.5" y1="1199.0" x2="703.0" y2="1190.0" stroke="#f4f4f4" stroke-width="0.96768" stroke-linecap="round"/>
<line x1="703.0" y1="1190.0" x2="795.0" y2="1201.0" stroke="#1f1f1f" stroke-width="2.688" stroke-linecap="round"/><line x1="703.0" y1="1190.0" x2="795.0" y2="1201.0" stroke="#f4f4f4" stroke-width="0.96768" stroke-linecap="round"/>
<polygon points="89.0,1202.4 164.0,1213.2 164.0,1234.7 89.0,1222.3" fill="#e0e0e0"/>
<polyline points="94.0,1221.1 98.7,1204.3 103.3,1222.8 108.0,1205.8 112.7,1224.4 117.3,1207.2 122.0,1226.1 126.7,1208.6 131.3,1227.7 136.0,1210.1 140.7,1229.4 145.3,1211.5 150.0,1231.0 154.7,1213.0 159.3,1232.7 164.0,1214.4" fill="none" stroke="#1e1e1e" stroke-width="2.75" stroke-linejoin="round"/><polyline points="94.0,1221.1 98.7,1204.3 103.3,1222.8 108.0,1205.8 112.7,1224.4 117.3,1207.2 122.0,1226.1 126.7,1208.6 131.3,1227.7 136.0,1210.1 140.7,1229.4 145.3,1211.5 150.0,1231.0 154.7,1213.0 159.3,1232.7 164.0,1214.4" fill="none" stroke="#fafafa" stroke-width="1.0" stroke-linejoin="round"/>
<line x1="89.0" y1="1202.4" x2="164.0" y2="1213.2" stroke="#1f1f1f" stroke-width="3.3600000000000003" stroke-linecap="round"/><line x1="89.0" y1="1202.4" x2="164.0" y2="1213.2" stroke="#f4f4f4" stroke-width="1.2096" stroke-linecap="round"/>
<line x1="89.0" y1="1222.3" x2="164.0" y2="1234.7" stroke="#1f1f1f" stroke-width="3.3600000000000003" stroke-linecap="round"/><line x1="89.0" y1="1222.3" x2="164.0" y2="1234.7" stroke="#f4f4f4" stroke-width="1.2096" stroke-linecap="round"/>
<polygon points="190.0,1214.8 793.0,1202.3 793.0,1223.9 190.0,1237.0" fill="#f3f3f3"/>
<clipPath id="nt5"><polygon points="190.0,1214.8 793.0,1202.3 793.0,1223.9 190.0,1237.0"/></clipPath>
<g clip-path="url(#nt5)"><polyline points="706.0,1220.8 713.9,1204.3 721.8,1221.0 729.7,1204.5 737.6,1221.2 745.5,1204.7 753.5,1221.3 761.4,1204.8 769.3,1221.5 777.2,1205.0 785.1,1221.7 793.0,1205.2" fill="none" stroke="#555" stroke-width="2.2" stroke-linejoin="round"/><polyline points="706.0,1220.8 713.9,1204.3 721.8,1221.0 729.7,1204.5 737.6,1221.2 745.5,1204.7 753.5,1221.3 761.4,1204.8 769.3,1221.5 777.2,1205.0 785.1,1221.7 793.0,1205.2" fill="none" stroke="#fafafa" stroke-width="0.8" stroke-linejoin="round"/></g>
<polyline points="204.0,1216.0 223.0,1235.4 242.0,1215.2 261.0,1234.5 280.0,1214.4 299.0,1233.7 318.0,1213.6 337.0,1232.8 356.0,1212.8 375.0,1232.0 394.0,1212.0 413.0,1231.2 432.0,1211.2 451.0,1230.3 470.0,1210.4 489.0,1229.5 508.0,1209.5 527.0,1228.6 546.0,1208.7 565.0,1227.8 584.0,1207.9 603.0,1226.9 622.0,1207.1 641.0,1226.1 660.0,1206.3 679.0,1225.2 698.0,1205.5 717.0,1224.4 736.0,1204.7 755.0,1223.5 774.0,1203.9 793.0,1222.7" fill="none" stroke="#262626" stroke-width="2.64" stroke-linejoin="round"/><polyline points="204.0,1216.0 223.0,1235.4 242.0,1215.2 261.0,1234.5 280.0,1214.4 299.0,1233.7 318.0,1213.6 337.0,1232.8 356.0,1212.8 375.0,1232.0 394.0,1212.0 413.0,1231.2 432.0,1211.2 451.0,1230.3 470.0,1210.4 489.0,1229.5 508.0,1209.5 527.0,1228.6 546.0,1208.7 565.0,1227.8 584.0,1207.9 603.0,1226.9 622.0,1207.1 641.0,1226.1 660.0,1206.3 679.0,1225.2 698.0,1205.5 717.0,1224.4 736.0,1204.7 755.0,1223.5 774.0,1203.9 793.0,1222.7" fill="none" stroke="#fafafa" stroke-width="0.96" stroke-linejoin="round"/>
<line x1="190.0" y1="1214.8" x2="793.0" y2="1202.3" stroke="#1f1f1f" stroke-width="3.5840000000000005" stroke-linecap="round"/><line x1="190.0" y1="1214.8" x2="793.0" y2="1202.3" stroke="#f4f4f4" stroke-width="1.29024" stroke-linecap="round"/>
<line x1="190.0" y1="1237.0" x2="793.0" y2="1223.9" stroke="#1f1f1f" stroke-width="3.5840000000000005" stroke-linecap="round"/><line x1="190.0" y1="1237.0" x2="793.0" y2="1223.9" stroke="#f4f4f4" stroke-width="1.29024" stroke-linecap="round"/>
</g>
<g id="weight5">
<ellipse cx="455.5" cy="1013" rx="32.8" ry="30.8" fill="none" stroke="#edf2f7" stroke-width="16.4"/>
<path d="M426.9,1028.5 A33,31 0 1 1 482.5,1030.8" fill="none" stroke="#c3cfdc" stroke-width="9" stroke-linecap="round" opacity="0.55"/>
<path d="M424.2,999.3 A34.5,32.5 0 0 1 487.5,1000.8" fill="none" stroke="#5d7290" stroke-width="5.2" stroke-linecap="round" opacity="0.85"/>
<path d="M428.9,990.4 A35.8,33.8 0 0 1 484.8,993.6" fill="none" stroke="#1d2a3a" stroke-width="2.2" stroke-linecap="round" opacity="0.9"/>
<path d="M426.8,1003.3 A30.5,28.5 0 0 1 470.8,988.3" fill="none" stroke="#ffffff" stroke-width="2.4" stroke-linecap="round" opacity="0.95"/>
<path d="M441.7,1049.1 A40.4,38.4 0 0 1 430.6,982.7" fill="none" stroke="#27323f" stroke-width="1.8" stroke-linecap="round" opacity="1"/>
<path d="M430.8,982.9 A40.2,38.2 0 0 1 475.6,979.9" fill="none" stroke="#7e8da0" stroke-width="1.2" stroke-linecap="round" opacity="1"/>
<path d="M475.6,979.9 A40.2,38.2 0 0 1 469.2,1048.9" fill="none" stroke="#1c2631" stroke-width="2.2" stroke-linecap="round" opacity="1"/>
<ellipse cx="455.9" cy="1013.6" rx="24.4" ry="22.4" fill="none" stroke="#2a3644" stroke-width="1.5"/>
<path d="M441.9,1035.8 A27.8,25.8 0 0 1 453.4,987.8" fill="none" stroke="#51627a" stroke-width="1.3" stroke-linecap="round" opacity="1"/>
<path d="M470.0,990.6 A28.4,26.4 0 0 1 470.0,1036.4" fill="none" stroke="#6b7b90" stroke-width="1.1" stroke-linecap="round" opacity="1"/>
<polygon points="356.0,1047.5 553.0,1044.5 562.4,1049.7 405.8,1050.8 347.6,1052.0" fill="#cfd8e2" stroke="#5e6b7c" stroke-width="0.8"/>
<line x1="359.0" y1="1049.0" x2="551.0" y2="1046.0" stroke="#ffffff" stroke-width="2" opacity="0.9"/>
<path d="M345.9,1060.7 Q347.6,1052.0 353.4,1051.9 L405.8,1050.8 L397.4,1198.0 L318.8,1197.0 Z" fill="#f7f9fb" stroke="#8d9aab" stroke-width="0.9"/>
<polygon points="348.6,1060.5 398.8,1062.3 386.9,1195.0 321.0,1196.2" fill="url(#sideinner)" stroke="#5f6e80" stroke-width="0.9"/>
<polygon points="329.3,1155.5 391.9,1139.3 389.5,1165.8 322.7,1188.1" fill="#ffffff" opacity="0.55"/>
<path d="M344.7,1066.5 Q347.6,1052.0 353.4,1051.9 L404.1,1050.8" fill="none" stroke="#1d2631" stroke-width="2.6" stroke-linecap="round"/>
<line x1="349.6" y1="1060.5" x2="397.8" y2="1062.3" stroke="#ffffff" stroke-width="1.6"/>
<line x1="402.6" y1="1055.8" x2="393.2" y2="1195.0" stroke="#ffffff" stroke-width="4"/>
<line x1="399.4" y1="1058.8" x2="389.0" y2="1194.0" stroke="#3f4b5a" stroke-width="1.0"/>
<g transform="translate(335.3,1155.4) rotate(-13) skewX(-14) scale(0.47,1)"><text x="0" y="0" font-size="53" font-weight="bold" fill="#59626d" stroke="#59626d" stroke-width="3.2" stroke-linejoin="round" letter-spacing="-1">350</text><text x="80" y="-1" font-size="21" font-weight="bold" fill="#59626d" stroke="#59626d" stroke-width="2.5600000000000005" letter-spacing="0">LBS</text></g>
<g transform="translate(334.4,1154.7) rotate(-13) skewX(-14) scale(0.47,1)"><text x="0" y="0" font-size="53" font-weight="bold" fill="#3d454f" stroke="#3d454f" stroke-width="2.8" stroke-linejoin="round" letter-spacing="-1">350</text><text x="80" y="-1" font-size="21" font-weight="bold" fill="#3d454f" stroke="#3d454f" stroke-width="2.2399999999999998" letter-spacing="0">LBS</text></g>
<g transform="translate(333.5,1154.0) rotate(-13) skewX(-14) scale(0.47,1)"><text x="0" y="0" font-size="53" font-weight="bold" fill="#1d232a" stroke="#1d232a" stroke-width="2.0" stroke-linejoin="round" letter-spacing="-1">350</text><text x="80" y="-1" font-size="21" font-weight="bold" fill="#1d232a" stroke="#1d232a" stroke-width="1.6" letter-spacing="0">LBS</text></g>
<g transform="translate(332.9,1153.6) rotate(-13) skewX(-14) scale(0.47,1)"><text x="0" y="0" font-size="53" font-weight="bold" fill="none" stroke="#c9d2dc" stroke-width="1.2" opacity="0.65" letter-spacing="-1">350</text></g>
<polygon points="405.8,1050.8 562.4,1049.7 587.9,1198.0 397.4,1198.0" fill="url(#frameg)" stroke="#2d3744" stroke-width="1.3" stroke-linejoin="round"/>
<polyline points="350.1,1055.2 404.8,1052.8" fill="none" stroke="#2a3646" stroke-width="2.6" opacity="0.8"/>
<polyline points="408.8,1053.0 559.4,1051.9" fill="none" stroke="#3a475a" stroke-width="2.4" opacity="0.7"/>
<polygon points="415.8,1057.3 558.9,1056.7 583.4,1190.0 406.9,1191.5" fill="url(#panelg)" stroke="#4c596b" stroke-width="1"/>
<polygon points="415.8,1057.3 558.9,1056.7 583.4,1190.0 406.9,1191.5" fill="url(#panelshade)"/>
<polygon points="415.8,1057.3 558.9,1056.7 583.4,1190.0 406.9,1191.5" fill="#ffffff" filter="url(#grain)" opacity="0.5"/>
<line x1="415.8" y1="1058.5" x2="558.9" y2="1057.9" stroke="#354152" stroke-width="2.2" opacity="0.8"/>
<line x1="407.9" y1="1193.5" x2="583.4" y2="1192.0" stroke="#f5f8fb" stroke-width="2.4"/>
<line x1="399.4" y1="1194.4" x2="585.9" y2="1194.4" stroke="#8f9bab" stroke-width="3.6" opacity="0.9"/>
<line x1="398.4" y1="1196.8" x2="586.9" y2="1196.8" stroke="#4a5768" stroke-width="2.0" opacity="0.9"/>
<line x1="410.3" y1="1054.8" x2="401.9" y2="1194.0" stroke="#ffffff" stroke-width="4.5" opacity="0.85"/>
<g transform="translate(414.5,1152.8) rotate(1.5)"><text x="0" y="0" font-size="52.0" font-weight="bold" fill="#f0f4f8" textLength="91.5" lengthAdjust="spacingAndGlyphs" stroke="#f0f4f8" stroke-width="1.6" stroke-linejoin="round">350</text><text x="96.5" y="-0.6" font-size="25.5" font-weight="bold" fill="#f0f4f8" textLength="50.5" lengthAdjust="spacingAndGlyphs" stroke="#f0f4f8" stroke-width="0.9">LBS</text></g>
<g transform="translate(417.2,1150.7) rotate(1.5)"><text x="0" y="0" font-size="52.0" font-weight="bold" fill="#11161c" textLength="91.5" lengthAdjust="spacingAndGlyphs" stroke="#11161c" stroke-width="1.6" stroke-linejoin="round">350</text><text x="96.5" y="-0.6" font-size="25.5" font-weight="bold" fill="#11161c" textLength="50.5" lengthAdjust="spacingAndGlyphs" stroke="#11161c" stroke-width="0.9">LBS</text></g>
<g transform="translate(416.4,1151.2) rotate(1.5)"><text x="0" y="0" font-size="52.0" font-weight="bold" fill="#262c34" textLength="91.5" lengthAdjust="spacingAndGlyphs" stroke="#262c34" stroke-width="1.6" stroke-linejoin="round">350</text><text x="96.5" y="-0.6" font-size="25.5" font-weight="bold" fill="#262c34" textLength="50.5" lengthAdjust="spacingAndGlyphs" stroke="#262c34" stroke-width="0.9">LBS</text></g>
</g>
</g>
<g id="rack-front">
<ellipse cx="721" cy="1292.5" rx="36" ry="36.5" fill="url(#tread)"/>
<ellipse cx="724.2" cy="1293.1" rx="30.5" ry="34.5" fill="#171719" stroke="#333336" stroke-width="0.8"/>
<ellipse cx="725.2" cy="1293.5" rx="26" ry="29.5" fill="#262629"/>
<ellipse cx="726.0" cy="1293.9" rx="22.5" ry="25.5" fill="#111113"/>
<ellipse cx="726.8" cy="1294.3" rx="16" ry="18.0" fill="#1f1f22"/>
<path d="M673.6,1254.5 Q672.6,1247.5 682.6,1246.0 L703.0,1246.0 Q710.0,1247.5 709.0,1254.5 Q691.3,1258.0 673.6,1254.5 Z" fill="url(#domeg)" stroke="#262626" stroke-width="0.8"/>
<path d="M674.6,1250.7 Q691.3,1254.0 708.0,1250.7" fill="none" stroke="#1a1a1a" stroke-width="1" opacity="0.8"/>
<polygon points="680.2,1252.3 703.7,1252.3 703.7,1278.6 691.9,1266.1" fill="#e9e9e9" stroke="#1c1c1c" stroke-width="0.9" stroke-linejoin="round"/>
<polygon points="682.2,1253.3 692.0,1253.3 696.8,1272.4" fill="#3a3a3a" opacity="0.75"/>
<polygon points="707.5,1249.7 719.9,1251.0 730.9,1290.4 725.4,1297.3 718.5,1295.9 704.7,1278.0 704.7,1255.9" fill="url(#forkdk)" stroke="#2a2a2a" stroke-width="1.0" stroke-linejoin="round"/>
<line x1="718.4" y1="1253.0" x2="728.9" y2="1288.4" stroke="#b5b5b5" stroke-width="1.4" opacity="0.8"/>
<ellipse cx="725.7" cy="1291.1" rx="3.4" ry="4.2" fill="#e2e2e2" stroke="#2a2a2a" stroke-width="0.9"/>
<ellipse cx="725.1" cy="1290.3" rx="1.5" ry="2.0" fill="#ffffff"/>
<ellipse cx="119.8" cy="1309.2" rx="37.8" ry="37.8" fill="url(#tread)"/>
<ellipse cx="123.0" cy="1309.8" rx="32.3" ry="35.8" fill="#171719" stroke="#333336" stroke-width="0.8"/>
<ellipse cx="124.0" cy="1310.2" rx="27.799999999999997" ry="30.799999999999997" fill="#262629"/>
<ellipse cx="124.8" cy="1310.6000000000001" rx="24.299999999999997" ry="26.799999999999997" fill="#111113"/>
<ellipse cx="125.6" cy="1311.0" rx="17.799999999999997" ry="19.299999999999997" fill="#1f1f22"/>
<path d="M73.4,1270.5 Q72.4,1263.5 82.4,1262.0 L103.8,1262.0 Q110.8,1263.5 109.8,1270.5 Q91.6,1274.0 73.4,1270.5 Z" fill="url(#domeg)" stroke="#262626" stroke-width="0.8"/>
<path d="M74.4,1266.7 Q91.6,1270.0 108.8,1266.7" fill="none" stroke="#1a1a1a" stroke-width="1" opacity="0.8"/>
<polygon points="78.9,1269.0 103.6,1269.0 103.6,1296.7 91.2,1283.6" fill="#e9e9e9" stroke="#1c1c1c" stroke-width="0.9" stroke-linejoin="round"/>
<polygon points="80.9,1270.0 91.2,1270.0 96.4,1290.2" fill="#3a3a3a" opacity="0.75"/>
<polygon points="106.5,1266.9 119.6,1268.3 131.2,1309.8 125.4,1317.0 118.1,1315.6 103.6,1296.7 103.6,1273.4" fill="url(#forkdk)" stroke="#2a2a2a" stroke-width="1.0" stroke-linejoin="round"/>
<line x1="118.1" y1="1270.3" x2="129.2" y2="1307.8" stroke="#b5b5b5" stroke-width="1.4" opacity="0.8"/>
<ellipse cx="125.7" cy="1310.8" rx="3.4" ry="4.2" fill="#e2e2e2" stroke="#2a2a2a" stroke-width="0.9"/>
<ellipse cx="125.1" cy="1310.0" rx="1.5" ry="2.0" fill="#ffffff"/>
<rect x="793.0" y="238" width="22.1" height="1024" fill="url(#chrome)"/>
<path d="M792.6,250.7h22.900000000000002M792.6,273.3h22.900000000000002M792.6,295.9h22.900000000000002M792.6,318.5h22.900000000000002M792.6,341.1h22.900000000000002M792.6,363.7h22.900000000000002M792.6,386.3h22.900000000000002M792.6,408.9h22.900000000000002M792.6,431.5h22.900000000000002M792.6,454.1h22.900000000000002M792.6,476.7h22.900000000000002M792.6,499.3h22.900000000000002M792.6,521.9h22.900000000000002M792.6,544.5h22.900000000000002M792.6,567.1h22.900000000000002M792.6,589.7h22.900000000000002M792.6,612.3h22.900000000000002M792.6,634.9h22.900000000000002M792.6,657.5h22.900000000000002M792.6,680.1h22.900000000000002M792.6,702.7h22.900000000000002M792.6,725.3h22.900000000000002M792.6,747.9h22.900000000000002M792.6,770.5h22.900000000000002M792.6,793.1h22.900000000000002M792.6,815.7h22.900000000000002M792.6,838.3h22.900000000000002M792.6,860.9h22.900000000000002M792.6,883.5h22.900000000000002M792.6,906.1h22.900000000000002M792.6,928.7h22.900000000000002M792.6,951.3h22.900000000000002M792.6,973.9h22.900000000000002M792.6,996.5h22.900000000000002M792.6,1019.1h22.900000000000002M792.6,1041.7h22.900000000000002M792.6,1064.3h22.900000000000002M792.6,1086.9h22.900000000000002M792.6,1109.5h22.900000000000002M792.6,1132.1h22.900000000000002M792.6,1154.7h22.900000000000002M792.6,1177.3h22.900000000000002M792.6,1199.9h22.900000000000002M792.6,1222.5h22.900000000000002M792.6,1245.1h22.900000000000002" stroke="#1a1a1a" stroke-width="0.7" opacity="0.55"/>
<path d="M794.2,252.0h19.700000000000003M794.2,274.6h19.700000000000003M794.2,297.2h19.700000000000003M794.2,319.8h19.700000000000003M794.2,342.4h19.700000000000003M794.2,365.0h19.700000000000003M794.2,387.6h19.700000000000003M794.2,410.2h19.700000000000003M794.2,432.8h19.700000000000003M794.2,455.4h19.700000000000003M794.2,478.0h19.700000000000003M794.2,500.6h19.700000000000003M794.2,523.2h19.700000000000003M794.2,545.8h19.700000000000003M794.2,568.4h19.700000000000003M794.2,591.0h19.700000000000003M794.2,613.6h19.700000000000003M794.2,636.2h19.700000000000003M794.2,658.8h19.700000000000003M794.2,681.4h19.700000000000003M794.2,704.0h19.700000000000003M794.2,726.6h19.700000000000003M794.2,749.2h19.700000000000003M794.2,771.8h19.700000000000003M794.2,794.4h19.700000000000003M794.2,817.0h19.700000000000003M794.2,839.6h19.700000000000003M794.2,862.2h19.700000000000003M794.2,884.8h19.700000000000003M794.2,907.4h19.700000000000003M794.2,930.0h19.700000000000003M794.2,952.6h19.700000000000003M794.2,975.2h19.700000000000003M794.2,997.8h19.700000000000003M794.2,1020.4h19.700000000000003M794.2,1043.0h19.700000000000003M794.2,1065.6h19.700000000000003M794.2,1088.2h19.700000000000003M794.2,1110.8h19.700000000000003M794.2,1133.4h19.700000000000003M794.2,1156.0h19.700000000000003M794.2,1178.6h19.700000000000003M794.2,1201.2h19.700000000000003M794.2,1223.8h19.700000000000003M794.2,1246.4h19.700000000000003" stroke="#ffffff" stroke-width="1.6" opacity="0.42"/>
<polygon points="791.2,231.0 816.8,231.0 819.3,262.0 788.7,262.0" fill="url(#collar)" stroke="#444" stroke-width="0.5"/>
<rect x="790.2" y="262.0" width="27.6" height="4.6" rx="1.5" fill="#0d0d0d"/>
<ellipse cx="804.0" cy="231.6" rx="12.8" ry="1.6" fill="#dcdcdc" stroke="#555" stroke-width="0.5"/>
<polygon points="791.2,467.0 816.8,467.0 819.3,497.7 788.7,497.7" fill="url(#collar)" stroke="#444" stroke-width="0.5"/>
<rect x="790.2" y="497.7" width="27.6" height="4.6" rx="1.5" fill="#0d0d0d"/>
<polygon points="791.2,688.0 816.8,688.0 819.3,718.8 788.7,718.8" fill="url(#collar)" stroke="#444" stroke-width="0.5"/>
<rect x="790.2" y="718.8" width="27.6" height="4.6" rx="1.5" fill="#0d0d0d"/>
<polygon points="791.2,945.7 816.8,945.7 819.3,976.6 788.7,976.6" fill="url(#collar)" stroke="#444" stroke-width="0.5"/>
<rect x="790.2" y="976.6" width="27.6" height="4.6" rx="1.5" fill="#0d0d0d"/>
<polygon points="791.2,1197.7 816.8,1197.7 819.3,1228.5 788.7,1228.5" fill="url(#collar)" stroke="#444" stroke-width="0.5"/>
<rect x="790.2" y="1228.5" width="27.6" height="4.6" rx="1.5" fill="#0d0d0d"/>
<rect x="166.2" y="200" width="22.8" height="1080" fill="url(#chrome)"/>
<path d="M165.8,212.7h23.6M165.8,235.3h23.6M165.8,257.9h23.6M165.8,280.5h23.6M165.8,303.1h23.6M165.8,325.7h23.6M165.8,348.3h23.6M165.8,370.9h23.6M165.8,393.5h23.6M165.8,416.1h23.6M165.8,438.7h23.6M165.8,461.3h23.6M165.8,483.9h23.6M165.8,506.5h23.6M165.8,529.1h23.6M165.8,551.7h23.6M165.8,574.3h23.6M165.8,596.9h23.6M165.8,619.5h23.6M165.8,642.1h23.6M165.8,664.7h23.6M165.8,687.3h23.6M165.8,709.9h23.6M165.8,732.5h23.6M165.8,755.1h23.6M165.8,777.7h23.6M165.8,800.3h23.6M165.8,822.9h23.6M165.8,845.5h23.6M165.8,868.1h23.6M165.8,890.7h23.6M165.8,913.3h23.6M165.8,935.9h23.6M165.8,958.5h23.6M165.8,981.1h23.6M165.8,1003.7h23.6M165.8,1026.3h23.6M165.8,1048.9h23.6M165.8,1071.5h23.6M165.8,1094.1h23.6M165.8,1116.7h23.6M165.8,1139.3h23.6M165.8,1161.9h23.6M165.8,1184.5h23.6M165.8,1207.1h23.6M165.8,1229.7h23.6M165.8,1252.3h23.6" stroke="#1a1a1a" stroke-width="0.7" opacity="0.55"/>
<path d="M167.4,214.0h20.400000000000002M167.4,236.6h20.400000000000002M167.4,259.2h20.400000000000002M167.4,281.8h20.400000000000002M167.4,304.4h20.400000000000002M167.4,327.0h20.400000000000002M167.4,349.6h20.400000000000002M167.4,372.2h20.400000000000002M167.4,394.8h20.400000000000002M167.4,417.4h20.400000000000002M167.4,440.0h20.400000000000002M167.4,462.6h20.400000000000002M167.4,485.2h20.400000000000002M167.4,507.8h20.400000000000002M167.4,530.4h20.400000000000002M167.4,553.0h20.400000000000002M167.4,575.6h20.400000000000002M167.4,598.2h20.400000000000002M167.4,620.8h20.400000000000002M167.4,643.4h20.400000000000002M167.4,666.0h20.400000000000002M167.4,688.6h20.400000000000002M167.4,711.2h20.400000000000002M167.4,733.8h20.400000000000002M167.4,756.4h20.400000000000002M167.4,779.0h20.400000000000002M167.4,801.6h20.400000000000002M167.4,824.2h20.400000000000002M167.4,846.8h20.400000000000002M167.4,869.4h20.400000000000002M167.4,892.0h20.400000000000002M167.4,914.6h20.400000000000002M167.4,937.2h20.400000000000002M167.4,959.8h20.400000000000002M167.4,982.4h20.400000000000002M167.4,1005.0h20.400000000000002M167.4,1027.6h20.400000000000002M167.4,1050.2h20.400000000000002M167.4,1072.8h20.400000000000002M167.4,1095.4h20.400000000000002M167.4,1118.0h20.400000000000002M167.4,1140.6h20.400000000000002M167.4,1163.2h20.400000000000002M167.4,1185.8h20.400000000000002M167.4,1208.4h20.400000000000002M167.4,1231.0h20.400000000000002M167.4,1253.6h20.400000000000002" stroke="#ffffff" stroke-width="1.6" opacity="0.42"/>
<polygon points="164.4,194.0 190.8,194.0 193.2,227.0 161.9,227.0" fill="url(#collar)" stroke="#444" stroke-width="0.5"/>
<rect x="163.4" y="227.0" width="28.3" height="4.6" rx="1.5" fill="#0d0d0d"/>
<ellipse cx="177.6" cy="194.6" rx="13.2" ry="1.6" fill="#dcdcdc" stroke="#555" stroke-width="0.5"/>
<polygon points="164.4,442.0 190.8,442.0 193.2,475.4 161.9,475.4" fill="url(#collar)" stroke="#444" stroke-width="0.5"/>
<rect x="163.4" y="475.4" width="28.3" height="4.6" rx="1.5" fill="#0d0d0d"/>
<polygon points="164.4,675.0 190.8,675.0 193.2,706.7 161.9,706.7" fill="url(#collar)" stroke="#444" stroke-width="0.5"/>
<rect x="163.4" y="706.7" width="28.3" height="4.6" rx="1.5" fill="#0d0d0d"/>
<polygon points="164.4,946.3 190.8,946.3 193.2,978.7 161.9,978.7" fill="url(#collar)" stroke="#444" stroke-width="0.5"/>
<rect x="163.4" y="978.7" width="28.3" height="4.6" rx="1.5" fill="#0d0d0d"/>
<polygon points="164.4,1211.5 190.8,1211.5 193.2,1244.0 161.9,1244.0" fill="url(#collar)" stroke="#444" stroke-width="0.5"/>
<rect x="163.4" y="1244.0" width="28.3" height="4.6" rx="1.5" fill="#0d0d0d"/>
<ellipse cx="835" cy="1311" rx="38" ry="38" fill="url(#tread)"/>
<ellipse cx="838.2" cy="1311.6" rx="32.5" ry="36" fill="#171719" stroke="#333336" stroke-width="0.8"/>
<ellipse cx="839.2" cy="1312.0" rx="28" ry="31" fill="#262629"/>
<ellipse cx="840.0" cy="1312.4" rx="24.5" ry="27" fill="#111113"/>
<ellipse cx="840.8" cy="1312.8" rx="18" ry="19.5" fill="#1f1f22"/>
<path d="M786.0,1269.5 Q785.0,1262.5 795.0,1261.0 L816.0,1261.0 Q823.0,1262.5 822.0,1269.5 Q804.0,1273.0 786.0,1269.5 Z" fill="url(#domeg)" stroke="#262626" stroke-width="0.8"/>
<path d="M787.0,1265.7 Q804.0,1269.0 821.0,1265.7" fill="none" stroke="#1a1a1a" stroke-width="1" opacity="0.8"/>
<polygon points="789.4,1269.6 811.5,1269.6 814.3,1295.8 803.3,1286.1" fill="#e9e9e9" stroke="#1c1c1c" stroke-width="0.9" stroke-linejoin="round"/>
<polygon points="791.4,1270.6 800.5,1270.6 806.4,1290.9" fill="#3a3a3a" opacity="0.75"/>
<polygon points="818.0,1266.5 833.2,1268.0 840.1,1295.6 831.8,1301.1 815.3,1295.6 812.5,1281.7" fill="url(#forkdk)" stroke="#2a2a2a" stroke-width="1.0" stroke-linejoin="round"/>
<line x1="831.7" y1="1270.0" x2="838.1" y2="1293.6" stroke="#b5b5b5" stroke-width="1.4" opacity="0.8"/>
<path d="M812.7,1300.0 Q839.9,1296.0 853.9,1300.0 Q863.9,1302.0 869.9,1308.5 L883.0,1312.0 L882.0,1313.6 L867.9,1311.0 Q855.9,1321.0 841.9,1317.0 Q831.9,1313.0 813.2,1301.0 Z" fill="#e4e4e4" stroke="#2e2e2e" stroke-width="0.8"/>
<path d="M816.7,1302.5 Q837.9,1307.0 841.9,1314.0 L835.9,1312.0 Z" fill="#7a7a7a"/>
<ellipse cx="848.9" cy="1309.5" rx="4.6" ry="4.2" fill="#fafafa" stroke="#3a3a3a" stroke-width="0.8"/>
<ellipse cx="842.9" cy="1309.0" rx="2.6" ry="3.2" fill="#2a2a2a"/>
<circle cx="856.9" cy="1310.0" r="2.2" fill="#cfcfcf" stroke="#444" stroke-width="0.6"/>
<ellipse cx="206.8" cy="1330.0" rx="40" ry="40.6" fill="url(#tread)"/>
<ellipse cx="210.0" cy="1330.6" rx="34.5" ry="38.6" fill="#171719" stroke="#333336" stroke-width="0.8"/>
<ellipse cx="211.0" cy="1331.0" rx="30" ry="33.6" fill="#262629"/>
<ellipse cx="211.8" cy="1331.4" rx="26.5" ry="29.6" fill="#111113"/>
<ellipse cx="212.60000000000002" cy="1331.8" rx="20" ry="22.1" fill="#1f1f22"/>
<path d="M159.2,1287.5 Q158.2,1280.5 168.2,1279.0 L190.0,1279.0 Q197.0,1280.5 196.0,1287.5 Q177.6,1291.0 159.2,1287.5 Z" fill="url(#domeg)" stroke="#262626" stroke-width="0.8"/>
<path d="M160.2,1283.7 Q177.6,1287.0 195.0,1283.7" fill="none" stroke="#1a1a1a" stroke-width="1" opacity="0.8"/>
<polygon points="161.7,1288.0 185.0,1288.0 187.9,1315.6 176.3,1305.4" fill="#e9e9e9" stroke="#1c1c1c" stroke-width="0.9" stroke-linejoin="round"/>
<polygon points="163.7,1289.0 173.3,1289.0 179.7,1310.5" fill="#3a3a3a" opacity="0.75"/>
<polygon points="190.8,1285.0 206.8,1286.5 214.0,1315.6 205.3,1321.4 187.9,1315.6 185.0,1301.0" fill="url(#forkdk)" stroke="#2a2a2a" stroke-width="1.0" stroke-linejoin="round"/>
<line x1="205.3" y1="1288.5" x2="212.0" y2="1313.6" stroke="#b5b5b5" stroke-width="1.4" opacity="0.8"/>
<path d="M181.0,1318.5 Q209.7,1315.2 223.7,1319.2 Q233.7,1321.2 239.7,1327.8 L254.4,1332.0 L253.4,1333.6 L237.7,1330.2 Q225.7,1340.2 211.7,1336.2 Q201.7,1332.2 181.5,1319.5 Z" fill="#e4e4e4" stroke="#2e2e2e" stroke-width="0.8"/>
<path d="M185.0,1321.0 Q207.7,1326.2 211.7,1333.2 L205.7,1331.2 Z" fill="#7a7a7a"/>
<ellipse cx="218.7" cy="1328.8" rx="4.6" ry="4.2" fill="#fafafa" stroke="#3a3a3a" stroke-width="0.8"/>
<ellipse cx="212.7" cy="1328.2" rx="2.6" ry="3.2" fill="#2a2a2a"/>
<circle cx="226.7" cy="1329.2" r="2.2" fill="#cfcfcf" stroke="#444" stroke-width="0.6"/>
</g>
<g id="rightcol">
<rect x="897.5" y="261.5" width="537.5" height="391" rx="17" ry="17" fill="none" stroke="#9cc0f2" stroke-width="5" opacity="0.55" filter="url(#glow)"/>
<rect x="897.5" y="261.5" width="537.5" height="391" rx="17" ry="17" fill="#ffffff" stroke="#5a8fdc" stroke-width="2.2"/>
<rect x="901.5" y="814.5" width="539.5" height="391" rx="17" ry="17" fill="none" stroke="#9cc0f2" stroke-width="5" opacity="0.55" filter="url(#glow)"/>
<rect x="901.5" y="814.5" width="539.5" height="391" rx="17" ry="17" fill="#ffffff" stroke="#5a8fdc" stroke-width="2.2"/>
<ellipse cx="1057.2" cy="526.6" rx="86.7" ry="101.4" fill="url(#tread)"/>
<ellipse cx="1058.1" cy="526.6" rx="84.4" ry="99.6" fill="none" stroke="#050505" stroke-width="1.2" opacity="0.6"/>
<ellipse cx="1074.8" cy="525.0" rx="69.0" ry="99.1" fill="#141416" stroke="#3c3c3f" stroke-width="1.4"/>
<ellipse cx="1076.2" cy="525.5" rx="60.4" ry="87.4" fill="#222225" stroke="#4a4a4d" stroke-width="1.0"/>
<ellipse cx="1077.1" cy="525.9" rx="55.0" ry="79.2" fill="#0f0f11"/>
<ellipse cx="1078.0" cy="526.4" rx="46.4" ry="65.2" fill="#1d1d20" stroke="#38383b" stroke-width="0.8"/>
<ellipse cx="1078.9" cy="526.8" rx="35.1" ry="47.1" fill="#0a0a0b"/>
<rect x="986.7" y="329.5" width="20.2" height="41.9" fill="url(#screw)" rx="2"/>
<rect x="991.6" y="330.7" width="6.6" height="40.2" fill="#2a2f35" opacity="0.75"/>
<line x1="985.9" y1="333.0" x2="1007.6" y2="331.6" stroke="#22272c" stroke-width="1.7"/>
<line x1="986.5" y1="335.1" x2="1007.1" y2="333.8" stroke="#ffffff" stroke-width="1.5"/>
<line x1="985.9" y1="337.4" x2="1007.6" y2="336.1" stroke="#22272c" stroke-width="1.7"/>
<line x1="986.5" y1="339.6" x2="1007.1" y2="338.2" stroke="#ffffff" stroke-width="1.5"/>
<line x1="985.9" y1="341.9" x2="1007.6" y2="340.5" stroke="#22272c" stroke-width="1.7"/>
<line x1="986.5" y1="344.0" x2="1007.1" y2="342.7" stroke="#ffffff" stroke-width="1.5"/>
<line x1="985.9" y1="346.4" x2="1007.6" y2="345.0" stroke="#22272c" stroke-width="1.7"/>
<line x1="986.5" y1="348.5" x2="1007.1" y2="347.1" stroke="#ffffff" stroke-width="1.5"/>
<line x1="985.9" y1="350.8" x2="1007.6" y2="349.5" stroke="#22272c" stroke-width="1.7"/>
<line x1="986.5" y1="352.9" x2="1007.1" y2="351.6" stroke="#ffffff" stroke-width="1.5"/>
<line x1="985.9" y1="355.3" x2="1007.6" y2="353.9" stroke="#22272c" stroke-width="1.7"/>
<line x1="986.5" y1="357.4" x2="1007.1" y2="356.0" stroke="#ffffff" stroke-width="1.5"/>
<line x1="985.9" y1="359.7" x2="1007.6" y2="358.4" stroke="#22272c" stroke-width="1.7"/>
<line x1="986.5" y1="361.9" x2="1007.1" y2="360.5" stroke="#ffffff" stroke-width="1.5"/>
<line x1="985.9" y1="364.2" x2="1007.6" y2="362.8" stroke="#22272c" stroke-width="1.7"/>
<line x1="986.5" y1="366.3" x2="1007.1" y2="365.0" stroke="#ffffff" stroke-width="1.5"/>
<line x1="985.9" y1="368.6" x2="1007.6" y2="367.3" stroke="#22272c" stroke-width="1.7"/>
<line x1="986.5" y1="370.8" x2="1007.1" y2="369.4" stroke="#ffffff" stroke-width="1.5"/>
<line x1="987.1" y1="329.5" x2="1006.7" y2="329.5" stroke="#1a1a1a" stroke-width="1.4"/>
<polygon points="970.2,377.0 972.0,374.3 978.8,370.2 1017.5,370.2 1023.5,374.3 1025.3,377.0 1025.5,396.7 970.0,396.7" fill="#f4f4f4" stroke="#1d1d1d" stroke-width="1.1" stroke-linejoin="round"/>
<polygon points="973.4,374.3 979.2,370.8 1017.0,370.8 1022.4,374.3 998.1,376.7" fill="#d6d6d6"/>
<path d="M970.6,377.4 Q998.1,382.0 1025.1,377.4" fill="none" stroke="#2a2a2a" stroke-width="1.3"/>
<rect x="982.6" y="379.1" width="8.9" height="17.4" fill="#121212"/>
<rect x="991.6" y="379.3" width="16.3" height="17.2" fill="#7d7d7d"/>
<rect x="1007.8" y="379.1" width="1.5" height="17.4" fill="#2a2a2a"/>
<rect x="970.8" y="378.1" width="1.7" height="18.4" fill="#555555"/>
<rect x="1023.1" y="378.1" width="1.7" height="18.4" fill="#444444"/>
<path d="M969.1,397.5 C979.2,397.0 1015.9,397.0 1026.2,397.5 C1036.6,398.0 1029.9,399.3 1031.1,400.4 C1032.2,401.6 1044.4,403.7 1033.2,404.3 C1022.1,404.9 975.5,404.9 964.2,404.3 C952.9,403.7 964.6,401.6 965.4,400.4 C966.2,399.3 958.9,398.0 969.1,397.5 Z" fill="#ececec" stroke="#1d1d1d" stroke-width="1.1"/>
<path d="M966.2,401.2 Q998.1,405.3 1031.1,401.2" fill="none" stroke="#222" stroke-width="1.6"/>
<rect x="984.1" y="398.1" width="23.7" height="5.8" fill="#3a3a3a" opacity="0.85"/>
<rect x="972.0" y="398.7" width="9.7" height="1.9" fill="#ffffff"/>
<path d="M948.1,422.9 C949.7,414.5 960.8,405.8 980.7,404.1 L1017.5,404.1 C1036.9,405.8 1047.8,414.5 1049.3,422.9 Q998.1,428.7 948.1,422.9 Z" fill="#f6f6f6" stroke="#1c1c1c" stroke-width="1.2"/>
<path d="M959.4,415.0 C954.5,413.0 962.6,410.4 969.1,409.1 C975.5,407.9 988.4,407.2 998.1,407.2 C1007.8,407.2 1020.6,407.8 1027.2,409.1 C1033.8,410.5 1042.7,413.5 1037.9,415.4 C1033.0,417.4 1011.2,420.9 998.1,420.8 C985.1,420.7 964.2,416.9 959.4,415.0 Z" fill="#cfcfcf" opacity="0.9"/>
<path d="M981.7,410.1 C984.1,408.3 992.8,408.7 998.1,408.7 C1003.5,408.7 1011.4,408.3 1013.6,410.1 C1015.9,412.0 1014.3,417.9 1011.7,419.8 C1009.1,421.7 1002.8,421.3 998.1,421.3 C993.5,421.3 986.4,421.7 983.6,419.8 C980.9,417.9 979.2,412.0 981.7,410.1 Z" fill="#3c3c3c" opacity="0.8"/>
<path d="M954.5,415.4 Q998.1,405.3 1042.7,415.4" fill="none" stroke="#2a2a2a" stroke-width="1.5"/>
<polygon points="948.1,422.9 998.1,426.8 1049.5,422.9 1049.7,446.0 1013.6,444.5 994.3,446.0 952.6,443.1 948.3,434.3" fill="#f0f0f0" stroke="#1a1a1a" stroke-width="1.1" stroke-linejoin="round"/>
<polygon points="972.0,425.6 990.4,426.6 990.4,445.6 972.0,444.4" fill="#8a8a8a"/>
<polygon points="990.4,426.6 1015.6,426.2 1015.6,444.4 994.3,446.0 990.4,445.6" fill="#161616"/>
<polygon points="1036.9,424.3 1049.5,423.1 1049.7,445.8 1036.9,445.2" fill="#c9c9c9"/>
<polygon points="948.5,423.5 953.1,424.1 953.1,442.9 948.7,434.3" fill="#5a5a5a"/>
<path d="M948.1,422.7 Q998.1,428.3 1049.5,422.7" fill="none" stroke="#111" stroke-width="2.6"/>
<path d="M948.9,425.6 Q998.1,431.0 1048.9,425.6" fill="none" stroke="#ffffff" stroke-width="1.6" opacity="0.9"/>
<path d="M951.7,440.8 C955.9,438.2 977.2,443.3 986.6,444.0 C996.0,444.7 1006.8,441.2 1008.1,444.9 C1009.4,448.6 999.1,460.3 994.5,466.2 C989.9,472.0 985.7,481.3 980.2,480.2 C974.8,479.1 966.4,465.9 961.7,459.4 C956.9,452.8 947.6,443.4 951.7,440.8 Z" fill="#161618" stroke="#050505" stroke-width="0.6"/>
<path d="M952.6,438.1 Q963.9,457.1 980.2,479.3" fill="none" stroke="#6e6e6e" stroke-width="1.6"/>
<path d="M985.4,444.0 C985.6,442.0 996.2,440.6 1005.8,439.5 C1015.4,438.3 1036.1,427.5 1043.2,437.2 C1050.2,446.9 1043.9,482.5 1048.1,497.8 C1052.4,513.2 1067.1,526.2 1068.5,529.1 C1069.9,531.9 1062.1,522.3 1056.7,514.8 C1051.4,507.4 1042.4,492.4 1036.4,484.3 C1030.3,476.2 1025.8,471.6 1020.5,466.2 C1015.2,460.7 1010.5,455.1 1004.7,451.5 C998.8,447.8 985.3,446.0 985.4,444.0 Z" fill="#d9d9d9" stroke="#3b3b3b" stroke-width="0.8"/>
<path d="M1012.6,446.2 C1012.0,440.8 1033.3,435.5 1038.6,442.6 C1044.0,449.7 1044.0,483.4 1044.5,488.8 C1045.1,494.2 1047.3,482.3 1042.0,475.2 C1036.7,468.1 1013.2,451.7 1012.6,446.2 Z" fill="#ffffff" opacity="0.85"/>
<polygon points="1047.7,419.1 1074.8,419.1 1079.8,437.2 1093.4,498.3 1096.6,507.4 1074.8,502.8 1056.7,513.7 1047.7,497.8" fill="#f4f4f4" stroke="#6a6a6a" stroke-width="0.8" stroke-linejoin="round"/>
<polygon points="1047.7,419.1 1056.7,419.5 1056.7,504.6 1047.7,497.8" fill="#b9b9b9" opacity="0.7"/>
<polygon points="1043.5,422.4 1050.0,419.1 1050.0,492.9 1056.5,501.2 1047.6,487.1 1043.5,478.8" fill="#141414"/>
<polygon points="1068.8,537.6 1094.1,532.9 1095.9,543.5 1091.2,546.5 1085.3,558.8 1074.7,572.9 1053.5,580.2 1035.9,575.3 1027.6,567.6 1028.8,557.6" fill="#1b1b1d" stroke="#0a0a0a" stroke-width="0.6" stroke-linejoin="round"/>
<path d="M1095.9,543.5 C1095.1,544.0 1093.1,543.9 1091.4,546.5 C1089.7,549.0 1088.3,554.5 1085.5,558.8 C1082.8,563.2 1080.3,569.3 1074.9,572.7 C1069.6,576.2 1060.0,579.2 1053.5,579.5 C1047.1,579.9 1040.2,576.7 1036.1,574.8 C1032.0,572.9 1030.0,569.1 1028.8,568.0" fill="none" stroke="#f4f4f4" stroke-width="2.6" stroke-linecap="round"/>
<path d="M1096.6,544.0 C1095.8,544.5 1093.8,544.7 1092.1,547.3 C1090.4,549.9 1089.2,555.1 1086.5,559.5 C1083.7,563.9 1081.1,570.1 1075.6,573.6 C1070.2,577.2 1060.4,580.3 1053.8,580.7 C1047.1,581.1 1038.7,576.8 1035.6,576.0" fill="none" stroke="#2a2a2a" stroke-width="0.8"/>
<polygon points="1069.4,538.2 1091.2,534.1 1085.3,556.5 1074.7,569.4 1059.4,557.6" fill="#cfcfcf" opacity="0.55"/>
<text x="1052.4" y="571.5" font-size="11.5" font-weight="bold" font-style="italic" fill="#ffffff" stroke="#dddddd" stroke-width="0.3" textLength="22" lengthAdjust="spacingAndGlyphs">NO</text>
<ellipse cx="1105.3" cy="526.5" rx="10.4" ry="17.1" fill="#f1f1f1" stroke="#3a3a3a" stroke-width="0.9"/>
<ellipse cx="1101.2" cy="529.4" rx="5.6" ry="12.4" fill="#ffffff" stroke="#666" stroke-width="0.7"/>
<polygon points="1056.5,501.2 1077.1,502.4 1094.5,506.1 1094.7,532.9 1072.4,534.8 1065.3,527.3 1057.3,510.6" fill="#f7f7f7" stroke="#262626" stroke-width="0.9" stroke-linejoin="round"/>
<polygon points="1057.8,505.4 1077.1,507.1 1094.1,511.1 1094.1,516.5 1077.1,513.2 1059.4,512.0" fill="#0e0e0e"/>
<polygon points="1068.8,524.2 1094.1,527.3 1094.4,532.9 1072.6,534.4" fill="#2a2a2a"/>
<path d="M1074.7,502.9 C1074.3,505.0 1073.3,510.9 1072.4,515.3 C1071.4,519.7 1069.4,527.1 1068.8,529.4" fill="none" stroke="#1a1a1a" stroke-width="1.2"/>
<polygon points="1095.3,508.0 1112.4,505.9 1126.5,501.2 1132.6,489.4 1135.9,478.8 1139.4,468.2 1148.8,461.2 1165.3,463.5 1181.8,466.6 1184.4,474.1 1170.0,484.7 1142.9,500.2 1124.1,510.8 1114.9,524.9 1105.5,537.9 1096.1,543.8 1094.9,524.7" fill="url(#leverg)" stroke="#1f1f1f" stroke-width="0.9" stroke-linejoin="round"/>
<path d="M1183.9,474.8 C1181.6,476.6 1176.8,481.1 1170.0,485.4 C1163.2,489.8 1150.5,496.6 1142.9,500.9 C1135.3,505.3 1128.9,507.5 1124.4,511.5 C1119.8,515.6 1118.5,520.9 1115.4,525.4 C1112.4,529.9 1109.1,535.2 1106.0,538.4 C1102.9,541.5 1098.2,543.3 1096.6,544.2" fill="none" stroke="#fafafa" stroke-width="2.2" stroke-linecap="round"/>
<polygon points="1095.9,508.8 1112.4,506.6 1126.2,502.1 1119.4,510.6 1111.2,522.4 1100.6,534.1 1095.9,529.4" fill="#fbfbfb"/>
<polygon points="1139.4,468.2 1148.8,461.2 1152.9,465.2 1143.9,472.0" fill="#1d1d1d"/>
<polygon points="1135.9,478.8 1143.9,472.0 1152.9,465.2 1181.8,467.3 1183.4,473.6 1168.8,483.5 1142.9,498.4 1133.5,491.8" fill="#a9a9a9" opacity="0.85"/>
<path d="M1154.7,471.8 C1155.3,470.2 1158.2,469.0 1160.6,469.4 C1162.9,469.8 1168.4,472.2 1168.8,474.1 C1169.2,476.1 1164.9,480.4 1162.9,481.2 C1161.0,482.0 1158.4,480.4 1157.1,478.8 C1155.7,477.3 1154.1,473.3 1154.7,471.8 Z" fill="none" stroke="#f0f0f0" stroke-width="1.1"/>
<line x1="1142.9" y1="475.3" x2="1151.2" y2="478.8" stroke="#e6e6e6" stroke-width="1.2"/>
<line x1="1144.7" y1="472.9" x2="1152.9" y2="476.5" stroke="#e6e6e6" stroke-width="1.0"/>
<ellipse cx="1298.3" cy="527.3" rx="87.8" ry="99.8" fill="url(#tread)"/>
<ellipse cx="1299.2" cy="527.3" rx="85.5" ry="98.0" fill="none" stroke="#050505" stroke-width="1.2" opacity="0.6"/>
<ellipse cx="1325.7" cy="525.5" rx="60.7" ry="97.3" fill="#141416" stroke="#3c3c3f" stroke-width="1.4"/>
<ellipse cx="1327.1" cy="525.9" rx="52.1" ry="85.5" fill="#222225" stroke="#4a4a4d" stroke-width="1.0"/>
<ellipse cx="1328.0" cy="526.4" rx="46.6" ry="77.4" fill="#0f0f11"/>
<ellipse cx="1328.9" cy="526.8" rx="38.0" ry="63.4" fill="#1d1d20" stroke="#38383b" stroke-width="0.8"/>
<ellipse cx="1329.8" cy="527.3" rx="26.7" ry="45.3" fill="#0a0a0b"/>
<rect x="1234.2" y="329.5" width="20.2" height="41.9" fill="url(#screw)" rx="2"/>
<rect x="1239.1" y="330.7" width="6.6" height="40.2" fill="#2a2f35" opacity="0.75"/>
<line x1="1233.4" y1="333.0" x2="1255.1" y2="331.6" stroke="#22272c" stroke-width="1.7"/>
<line x1="1234.0" y1="335.1" x2="1254.6" y2="333.8" stroke="#ffffff" stroke-width="1.5"/>
<line x1="1233.4" y1="337.4" x2="1255.1" y2="336.1" stroke="#22272c" stroke-width="1.7"/>
<line x1="1234.0" y1="339.6" x2="1254.6" y2="338.2" stroke="#ffffff" stroke-width="1.5"/>
<line x1="1233.4" y1="341.9" x2="1255.1" y2="340.5" stroke="#22272c" stroke-width="1.7"/>
<line x1="1234.0" y1="344.0" x2="1254.6" y2="342.7" stroke="#ffffff" stroke-width="1.5"/>
<line x1="1233.4" y1="346.4" x2="1255.1" y2="345.0" stroke="#22272c" stroke-width="1.7"/>
<line x1="1234.0" y1="348.5" x2="1254.6" y2="347.1" stroke="#ffffff" stroke-width="1.5"/>
<line x1="1233.4" y1="350.8" x2="1255.1" y2="349.5" stroke="#22272c" stroke-width="1.7"/>
<line x1="1234.0" y1="352.9" x2="1254.6" y2="351.6" stroke="#ffffff" stroke-width="1.5"/>
<line x1="1233.4" y1="355.3" x2="1255.1" y2="353.9" stroke="#22272c" stroke-width="1.7"/>
<line x1="1234.0" y1="357.4" x2="1254.6" y2="356.0" stroke="#ffffff" stroke-width="1.5"/>
<line x1="1233.4" y1="359.7" x2="1255.1" y2="358.4" stroke="#22272c" stroke-width="1.7"/>
<line x1="1234.0" y1="361.9" x2="1254.6" y2="360.5" stroke="#ffffff" stroke-width="1.5"/>
<line x1="1233.4" y1="364.2" x2="1255.1" y2="362.8" stroke="#22272c" stroke-width="1.7"/>
<line x1="1234.0" y1="366.3" x2="1254.6" y2="365.0" stroke="#ffffff" stroke-width="1.5"/>
<line x1="1233.4" y1="368.6" x2="1255.1" y2="367.3" stroke="#22272c" stroke-width="1.7"/>
<line x1="1234.0" y1="370.8" x2="1254.6" y2="369.4" stroke="#ffffff" stroke-width="1.5"/>
<line x1="1234.6" y1="329.5" x2="1254.2" y2="329.5" stroke="#1a1a1a" stroke-width="1.4"/>
<polygon points="1216.2,377.0 1218.0,374.3 1224.8,370.2 1263.5,370.2 1269.5,374.3 1271.3,377.0 1271.5,396.7 1216.0,396.7" fill="#f4f4f4" stroke="#1d1d1d" stroke-width="1.1" stroke-linejoin="round"/>
<polygon points="1219.4,374.3 1225.2,370.8 1263.0,370.8 1268.4,374.3 1244.1,376.7" fill="#d6d6d6"/>
<path d="M1216.6,377.4 Q1244.1,382.0 1271.1,377.4" fill="none" stroke="#2a2a2a" stroke-width="1.3"/>
<rect x="1228.6" y="379.1" width="8.9" height="17.4" fill="#121212"/>
<rect x="1237.6" y="379.3" width="16.3" height="17.2" fill="#7d7d7d"/>
<rect x="1253.8" y="379.1" width="1.5" height="17.4" fill="#2a2a2a"/>
<rect x="1216.8" y="378.1" width="1.7" height="18.4" fill="#555555"/>
<rect x="1269.1" y="378.1" width="1.7" height="18.4" fill="#444444"/>
<path d="M1215.1,397.5 C1225.2,397.0 1261.9,397.0 1272.2,397.5 C1282.6,398.0 1275.9,399.3 1277.1,400.4 C1278.2,401.6 1290.4,403.7 1279.2,404.3 C1268.1,404.9 1221.5,404.9 1210.2,404.3 C1198.9,403.7 1210.6,401.6 1211.4,400.4 C1212.2,399.3 1204.9,398.0 1215.1,397.5 Z" fill="#ececec" stroke="#1d1d1d" stroke-width="1.1"/>
<path d="M1212.2,401.2 Q1244.1,405.3 1277.1,401.2" fill="none" stroke="#222" stroke-width="1.6"/>
<rect x="1230.1" y="398.1" width="23.7" height="5.8" fill="#3a3a3a" opacity="0.85"/>
<rect x="1218.0" y="398.7" width="9.7" height="1.9" fill="#ffffff"/>
<path d="M1194.1,422.9 C1195.7,414.5 1206.8,405.8 1226.7,404.1 L1263.5,404.1 C1282.9,405.8 1293.8,414.5 1295.3,422.9 Q1244.1,428.7 1194.1,422.9 Z" fill="#f6f6f6" stroke="#1c1c1c" stroke-width="1.2"/>
<path d="M1205.4,415.0 C1200.5,413.0 1208.6,410.4 1215.1,409.1 C1221.5,407.9 1234.4,407.2 1244.1,407.2 C1253.8,407.2 1266.6,407.8 1273.2,409.1 C1279.8,410.5 1288.7,413.5 1283.9,415.4 C1279.0,417.4 1257.2,420.9 1244.1,420.8 C1231.1,420.7 1210.2,416.9 1205.4,415.0 Z" fill="#cfcfcf" opacity="0.9"/>
<path d="M1227.7,410.1 C1230.1,408.3 1238.8,408.7 1244.1,408.7 C1249.5,408.7 1257.4,408.3 1259.6,410.1 C1261.9,412.0 1260.3,417.9 1257.7,419.8 C1255.1,421.7 1248.8,421.3 1244.1,421.3 C1239.5,421.3 1232.4,421.7 1229.6,419.8 C1226.9,417.9 1225.2,412.0 1227.7,410.1 Z" fill="#3c3c3c" opacity="0.8"/>
<path d="M1200.5,415.4 Q1244.1,405.3 1288.7,415.4" fill="none" stroke="#2a2a2a" stroke-width="1.5"/>
<polygon points="1194.1,422.9 1244.1,426.8 1295.5,422.9 1295.7,446.0 1259.6,444.5 1240.3,446.0 1198.6,443.1 1194.3,434.3" fill="#f0f0f0" stroke="#1a1a1a" stroke-width="1.1" stroke-linejoin="round"/>
<polygon points="1218.0,425.6 1236.4,426.6 1236.4,445.6 1218.0,444.4" fill="#8a8a8a"/>
<polygon points="1236.4,426.6 1261.6,426.2 1261.6,444.4 1240.3,446.0 1236.4,445.6" fill="#161616"/>
<polygon points="1282.9,424.3 1295.5,423.1 1295.7,445.8 1282.9,445.2" fill="#c9c9c9"/>
<polygon points="1194.5,423.5 1199.1,424.1 1199.1,442.9 1194.7,434.3" fill="#5a5a5a"/>
<path d="M1194.1,422.7 Q1244.1,428.3 1295.5,422.7" fill="none" stroke="#111" stroke-width="2.6"/>
<path d="M1194.9,425.6 Q1244.1,431.0 1294.9,425.6" fill="none" stroke="#ffffff" stroke-width="1.6" opacity="0.9"/>
<path d="M1201.2,440.8 C1205.4,438.2 1226.7,443.3 1236.1,444.0 C1245.5,444.7 1256.3,441.2 1257.6,444.9 C1258.9,448.6 1248.6,460.3 1244.0,466.2 C1239.4,472.0 1235.2,481.3 1229.7,480.2 C1224.3,479.1 1215.9,465.9 1211.2,459.4 C1206.4,452.8 1197.1,443.4 1201.2,440.8 Z" fill="#161618" stroke="#050505" stroke-width="0.6"/>
<path d="M1202.1,438.1 Q1213.5,457.1 1229.7,479.3" fill="none" stroke="#6e6e6e" stroke-width="1.6"/>
<path d="M1237.4,445.3 C1238.6,443.4 1248.9,442.2 1258.3,440.8 C1267.6,439.5 1287.4,427.2 1293.3,437.2 C1299.3,447.2 1289.6,482.5 1294.0,500.6 C1298.4,518.7 1317.8,539.8 1319.8,545.8 C1321.9,551.9 1312.4,544.3 1306.2,536.8 C1300.1,529.2 1289.8,511.8 1283.2,500.6 C1276.5,489.4 1271.5,477.6 1266.2,469.6 C1260.9,461.6 1256.3,456.6 1251.5,452.6 C1246.7,448.5 1236.3,447.3 1237.4,445.3 Z" fill="#d9d9d9" stroke="#3b3b3b" stroke-width="0.8"/>
<path d="M1265.1,447.6 C1265.1,439.5 1284.6,435.3 1288.8,442.6 C1293.0,449.9 1290.4,483.4 1290.4,491.5 C1290.4,499.7 1293.0,498.8 1288.8,491.5 C1284.6,484.2 1265.1,455.8 1265.1,447.6 Z" fill="#ffffff" opacity="0.85"/>
<polygon points="1293.3,419.1 1319.4,420.0 1326.6,437.2 1341.1,514.1 1343.8,527.7 1338.8,541.3 1328.9,548.1 1319.4,545.4 1305.8,522.7 1293.3,500.6" fill="#f4f4f4" stroke="#6a6a6a" stroke-width="0.8" stroke-linejoin="round"/>
<polygon points="1293.3,419.1 1302.4,419.5 1302.4,507.4 1293.3,500.6" fill="#b9b9b9" opacity="0.7"/>
<ellipse cx="1326.2" cy="527.7" rx="10.4" ry="11.3" fill="#8d8d8d" stroke="#222" stroke-width="1.2"/>
<ellipse cx="1328.4" cy="527.7" rx="6.8" ry="8.1" fill="#ffffff" stroke="#666" stroke-width="0.7"/>
<clipPath id="p2clip"><rect x="902.5" y="815.5" width="537" height="389" rx="16"/></clipPath>
<g clip-path="url(#p2clip)">
<rect x="1117.6" y="815.8" width="130.6" height="131.2" fill="url(#tube)"/>
<path d="M1117.6,944.5 Q1150,948.5 1183,948 Q1215,946 1248.2,945.5 L1248.2,947.5 Q1215,948.5 1183,950.3 Q1150,950.6 1117.6,947 Z" fill="#111"/>
</g>
<rect x="1163.5" y="984.5" width="41.8" height="80" fill="url(#screw)" rx="2"/>
<ellipse cx="1184.4" cy="985" rx="20.6" ry="2.4" fill="#c9d0d6" stroke="#6d747b" stroke-width="0.7"/>
<path d="M1162.8,988.2 L1206,989.2M1162.8,991.9 L1206,992.9M1162.8,995.6 L1206,996.6M1162.8,999.4 L1206,1000.4M1162.8,1003.1 L1206,1004.1M1162.8,1006.8 L1206,1007.8M1162.8,1010.5 L1206,1011.5M1162.8,1014.2 L1206,1015.2M1162.8,1018.0 L1206,1019.0M1162.8,1021.7 L1206,1022.7M1162.8,1025.4 L1206,1026.4M1162.8,1029.1 L1206,1030.1M1162.8,1032.8 L1206,1033.8M1162.8,1036.6 L1206,1037.6M1162.8,1040.3 L1206,1041.3M1162.8,1044.0 L1206,1045.0M1162.8,1047.7 L1206,1048.7M1162.8,1051.4 L1206,1052.4M1162.8,1055.2 L1206,1056.2M1162.8,1058.9 L1206,1059.9" stroke="#3b4248" stroke-width="1.15" fill="none"/>
<path d="M1163.6,989.9 L1205.2,990.9M1163.6,993.6 L1205.2,994.6M1163.6,997.3 L1205.2,998.3M1163.6,1001.1 L1205.2,1002.1M1163.6,1004.8 L1205.2,1005.8M1163.6,1008.5 L1205.2,1009.5M1163.6,1012.2 L1205.2,1013.2M1163.6,1015.9 L1205.2,1016.9M1163.6,1019.7 L1205.2,1020.7M1163.6,1023.4 L1205.2,1024.4M1163.6,1027.1 L1205.2,1028.1M1163.6,1030.8 L1205.2,1031.8M1163.6,1034.5 L1205.2,1035.5M1163.6,1038.3 L1205.2,1039.3M1163.6,1042.0 L1205.2,1043.0M1163.6,1045.7 L1205.2,1046.7M1163.6,1049.4 L1205.2,1050.4M1163.6,1053.1 L1205.2,1054.1M1163.6,1056.9 L1205.2,1057.9M1163.6,1060.6 L1205.2,1061.6" stroke="#f7f9fb" stroke-width="1.0" fill="none"/>
<rect x="1176" y="986" width="14" height="74" fill="#5e6870" opacity="0.28"/>
<path d="M1116.5,1068 Q1116.5,1060 1126,1059.2 L1241.7,1059.2 Q1251.2,1060 1251.2,1068 L1251.2,1107 Q1250.5,1115.4 1236,1115.4 L1131.5,1115.4 Q1117,1115.4 1116.5,1107 Z" fill="url(#footg)"/>
<ellipse cx="1183.8" cy="1063.6" rx="66.4" ry="4.6" fill="#171717"/>
<ellipse cx="1184.4" cy="1064.2" rx="22" ry="2.4" fill="#aab2b9"/>
</g>
<g id="dims">
<line x1="51.0" y1="244.0" x2="51.0" y2="1340.0" stroke="#4c84d8" stroke-width="2"/>
<line x1="34.0" y1="234.5" x2="67.5" y2="234.5" stroke="#4c84d8" stroke-width="2"/>
<polygon points="51.0,235.5 41.0,245.0 61.0,245.0" fill="#4c84d8"/>
<line x1="34.0" y1="1348.0" x2="67.5" y2="1348.0" stroke="#4c84d8" stroke-width="2"/>
<polygon points="51.0,1347.0 41.5,1339.5 61.0,1339.5" fill="#4c84d8"/>
<line x1="76.2" y1="1358.0" x2="76.2" y2="1392.0" stroke="#4c84d8" stroke-width="2"/>
<line x1="179.8" y1="1380.0" x2="179.8" y2="1413.0" stroke="#4c84d8" stroke-width="2"/>
<line x1="84.0" y1="1375.5" x2="173.0" y2="1395.3" stroke="#4c84d8" stroke-width="2"/>
<polygon points="76.8,1375.0 84.7,1364.6 84.7,1385.6" fill="#4c84d8"/>
<polygon points="179.6,1396.8 171.3,1386.4 171.3,1406.4" fill="#4c84d8"/>
<line x1="189.0" y1="1396.5" x2="826.0" y2="1379.8" stroke="#4c84d8" stroke-width="2"/>
<polygon points="180.4,1396.8 190.6,1386.0 190.6,1407.2" fill="#4c84d8"/>
<polygon points="832.5,1379.5 823.5,1369.5 823.5,1390.0" fill="#4c84d8"/>
<line x1="833.0" y1="1363.0" x2="833.0" y2="1397.0" stroke="#4c84d8" stroke-width="2"/>
<text x="7.5" y="688.7" font-size="29" font-weight="bold" fill="#4c84d8" text-anchor="start" textLength="167.5" lengthAdjust="spacingAndGlyphs" transform="rotate(90 7.5 688.7)" >195cm/76.8in</text>
<text x="41.8" y="1423.2" font-size="28" font-weight="bold" fill="#4c84d8" text-anchor="start" textLength="150" lengthAdjust="spacingAndGlyphs" transform="rotate(12.6 41.8 1423.2)" >45cm/17.7in</text>
<text x="464.5" y="1437.5" font-size="28" font-weight="bold" fill="#4c84d8" text-anchor="start" textLength="168" lengthAdjust="spacingAndGlyphs" transform="rotate(-1.3 464.5 1437.5)" >120cm/47.2in</text>
<text x="1085.3" y="713.0" font-size="27" font-weight="bold" fill="#4c84d8" text-anchor="start" textLength="199.5" lengthAdjust="spacingAndGlyphs" >1750LB - Wheels</text>
<text x="1042.3" y="1268.8" font-size="27" font-weight="bold" fill="#4c84d8" text-anchor="start" textLength="303" lengthAdjust="spacingAndGlyphs" >1750LB -Adjustable Feets</text>
</g>
</svg>
</body></html>
